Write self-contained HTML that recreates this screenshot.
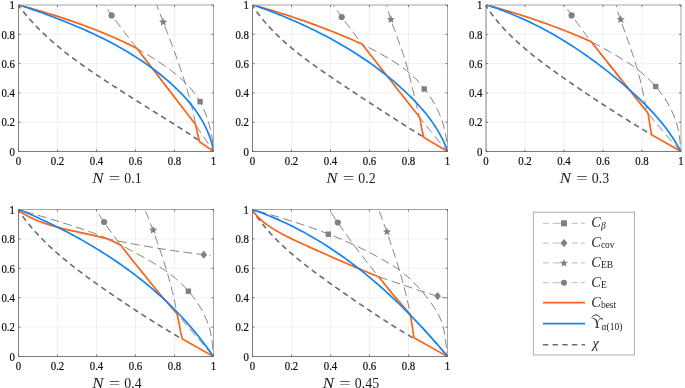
<!DOCTYPE html>
<html><head><meta charset="utf-8"><title>figure</title>
<style>
html,body{margin:0;padding:0;background:#fff;}
svg{display:block;}
.t{font-family:"Liberation Serif",serif;font-size:12.8px;fill:#0a0a0a;stroke:#0a0a0a;stroke-width:0.2px;}
.tt{font-family:"Liberation Serif",serif;font-size:14.3px;fill:#1c1c1c;}
.ti{font-family:"Liberation Serif",serif;font-style:italic;font-size:14.3px;fill:#1c1c1c;}
.ls{font-family:"Liberation Serif",serif;font-size:9.5px;fill:#1c1c1c;}
</style></head><body>
<svg width="685" height="388" viewBox="0 0 685 388">
<rect width="685" height="388" fill="#fff"/>
<rect x="18.5" y="5.0" width="195.0" height="146.5" fill="#fff"/>
<path d="M57.50,5.0 V151.5" stroke="#e9e9e9" stroke-width="0.7"/>
<path d="M18.5,34.30 H213.5" stroke="#e9e9e9" stroke-width="0.7"/>
<path d="M96.50,5.0 V151.5" stroke="#e9e9e9" stroke-width="0.7"/>
<path d="M18.5,63.60 H213.5" stroke="#e9e9e9" stroke-width="0.7"/>
<path d="M135.50,5.0 V151.5" stroke="#e9e9e9" stroke-width="0.7"/>
<path d="M18.5,92.90 H213.5" stroke="#e9e9e9" stroke-width="0.7"/>
<path d="M174.50,5.0 V151.5" stroke="#e9e9e9" stroke-width="0.7"/>
<path d="M18.5,122.20 H213.5" stroke="#e9e9e9" stroke-width="0.7"/>
<clipPath id="c0"><rect x="18.5" y="5.0" width="195.0" height="147.1"/></clipPath>
<g clip-path="url(#c0)">
<path d="M100.45,-0.46 L101.83,1.50 L103.21,3.46 L104.60,5.41 L106.00,7.35 L107.40,9.30 L108.81,11.24 L110.22,13.17 L111.63,15.10 L113.06,17.03 L114.48,18.96 L115.91,20.88 L117.35,22.80 L118.78,24.72 L120.23,26.63 L121.67,28.54 L123.12,30.45 L124.57,32.36 L126.03,34.26 L127.49,36.16 L128.95,38.06 L130.41,39.96 L131.87,41.86 L133.34,43.75 L134.81,45.64 L136.28,47.54 L137.76,49.43 L139.23,51.32 L140.71,53.21 L142.18,55.10 L143.66,56.98 L145.14,58.87 L146.62,60.76 L148.10,62.64 L149.58,64.53 L151.06,66.42 L152.54,68.30 L154.01,70.19 L155.49,72.08 L156.97,73.97 L158.45,75.85 L159.92,77.74 L161.40,79.63 L162.87,81.53 L164.34,83.42 L165.81,85.31 L167.28,87.21 L168.74,89.10 L170.20,91.00 L171.66,92.90 L173.12,94.81 L174.57,96.71 L176.03,98.62 L177.47,100.53 L178.92,102.44 L180.36,104.35 L181.79,106.27 L183.23,108.19 L184.66,110.11 L186.08,112.04 L187.50,113.97 L188.92,115.90 L190.33,117.84 L191.73,119.78 L193.13,121.72 L194.52,123.67 L195.91,125.62 L197.30,127.58 L198.67,129.54 L200.04,131.50 L201.41,133.47 L202.77,135.44 L204.12,137.42 L205.46,139.41 L206.80,141.40 L208.13,143.39 L209.45,145.39 L210.76,147.40 L212.07,149.41 L213.37,151.42" fill="none" stroke="#585858" stroke-width="0.75" stroke-dasharray="8.9,4.4" stroke-dashoffset="1.3"/>
<path d="M18.50,5.00 L21.72,5.82 L24.92,6.65 L28.13,7.51 L31.32,8.39 L34.52,9.28 L37.70,10.19 L40.88,11.12 L44.06,12.07 L47.23,13.03 L50.39,14.01 L53.55,15.01 L56.71,16.03 L59.85,17.06 L63.00,18.11 L66.14,19.17 L69.27,20.25 L72.40,21.34 L75.52,22.45 L78.64,23.57 L81.75,24.71 L84.86,25.86 L87.97,27.03 L91.06,28.20 L94.16,29.40 L97.25,30.60 L100.33,31.82 L103.41,33.05 L106.48,34.30 L109.54,35.58 L112.60,36.87 L115.63,38.19 L118.66,39.54 L121.67,40.92 L124.67,42.32 L127.65,43.77 L130.61,45.25 L133.55,46.77 L136.47,48.33 L139.36,49.94 L142.24,51.58 L145.09,53.27 L147.93,54.98 L150.74,56.72 L153.54,58.49 L156.33,60.28 L159.10,62.10 L161.84,63.94 L164.57,65.82 L167.27,67.74 L169.94,69.70 L172.58,71.70 L175.19,73.76 L177.76,75.88 L180.29,78.05 L182.76,80.28 L185.17,82.58 L187.50,84.95 L189.74,87.38 L191.90,89.90 L193.95,92.48 L195.89,95.15 L197.71,97.90 L199.40,100.73 L200.99,103.64 L202.47,106.60 L203.84,109.62 L205.13,112.68 L206.32,115.78 L207.43,118.91 L208.45,122.07 L209.39,125.26 L210.23,128.47 L210.98,131.70 L211.63,134.95 L212.18,138.22 L212.64,141.50 L212.99,144.79 L213.24,148.09 L213.39,151.39" fill="none" stroke="#585858" stroke-width="0.75" stroke-dasharray="8.9,4.4" stroke-dashoffset="8.0"/>
<path d="M154.46,-0.47 L155.06,1.08 L155.66,2.63 L156.26,4.18 L156.87,5.73 L157.47,7.28 L158.07,8.84 L158.68,10.39 L159.28,11.94 L159.89,13.49 L160.49,15.05 L161.10,16.60 L161.70,18.15 L162.31,19.71 L162.91,21.26 L163.51,22.82 L164.12,24.37 L164.72,25.93 L165.32,27.48 L165.93,29.04 L166.53,30.60 L167.13,32.16 L167.72,33.72 L168.32,35.28 L168.92,36.84 L169.51,38.40 L170.10,39.96 L170.69,41.52 L171.28,43.08 L171.86,44.65 L172.45,46.21 L173.03,47.78 L173.61,49.34 L174.18,50.91 L174.76,52.48 L175.33,54.05 L175.90,55.62 L176.46,57.19 L177.02,58.76 L177.58,60.34 L178.13,61.91 L178.68,63.49 L179.23,65.06 L179.77,66.64 L180.31,68.22 L180.85,69.80 L181.38,71.38 L181.90,72.97 L182.42,74.55 L182.94,76.14 L183.45,77.72 L183.96,79.31 L184.46,80.90 L184.96,82.49 L185.45,84.09 L185.94,85.68 L186.42,87.28 L186.90,88.87 L187.37,90.47 L187.83,92.07 L188.29,93.67 L188.74,95.28 L189.19,96.88 L189.63,98.49 L190.06,100.10 L190.49,101.71 L190.91,103.32 L191.32,104.94 L191.72,106.55 L192.12,108.17 L192.51,109.79 L192.90,111.41 L193.28,113.04 L193.64,114.66 L194.01,116.29 L194.36,117.92 L194.71,119.55 L195.04,121.18 L195.37,122.82 L195.69,124.46" fill="none" stroke="#585858" stroke-width="0.75" stroke-dasharray="8.9,4.4" stroke-dashoffset="11.3"/>
<circle cx="111.60" cy="15.40" r="3.1" fill="#808080"/>
<polygon points="163.20,17.70 164.32,20.56 167.38,20.74 165.01,22.69 165.79,25.66 163.20,24.00 160.61,25.66 161.39,22.69 159.02,20.74 162.08,20.56" fill="#808080"/>
<rect x="197.40" y="99.00" width="5.4" height="5.4" fill="#808080"/>
<path d="M18.24,5.19 L18.74,5.86 L19.24,6.52 L19.74,7.17 L20.24,7.83 L20.75,8.48 L21.25,9.13 L21.76,9.78 L22.28,10.43 L22.79,11.07 L23.31,11.71 L23.83,12.35 L24.35,12.98 L24.87,13.62 L25.40,14.25 L25.93,14.88 L26.46,15.50 L26.99,16.13 L27.52,16.75 L28.06,17.37 L28.60,17.99 L29.14,18.60 L29.68,19.22 L30.23,19.83 L30.78,20.44 L31.33,21.04 L31.88,21.65 L32.43,22.25 L32.99,22.85 L33.55,23.45 L34.11,24.05 L34.67,24.64 L35.23,25.23 L35.80,25.82 L36.36,26.41 L36.93,27.00 L37.50,27.58 L38.08,28.16 L38.65,28.74 L39.23,29.32 L39.81,29.90 L40.39,30.47 L40.97,31.04 L41.56,31.61 L42.14,32.18 L42.73,32.75 L43.32,33.31 L43.91,33.88 L44.50,34.44 L45.10,35.00 L45.69,35.55 L46.29,36.11 L46.89,36.66 L47.49,37.21 L48.10,37.76 L48.70,38.31 L49.31,38.86 L49.92,39.40 L50.52,39.95 L51.14,40.49 L51.75,41.03 L52.36,41.57 L52.98,42.10 L53.59,42.64 L54.21,43.17 L54.83,43.70 L55.45,44.23 L56.08,44.76 L56.70,45.29 L57.33,45.82 L57.95,46.34 L58.58,46.86 L59.21,47.38 L59.84,47.90 L60.48,48.42 L61.11,48.94 L61.75,49.45 L62.38,49.97 L63.02,50.48 L63.66,50.99 L64.30,51.50 L64.94,52.01 L65.58,52.51 L66.23,53.02 L66.87,53.52 L67.52,54.03 L68.16,54.53 L68.81,55.03 L69.46,55.53 L70.11,56.02 L70.77,56.52 L71.42,57.02 L72.07,57.51 L72.73,58.00 L73.38,58.49 L74.04,58.99 L74.70,59.47 L75.36,59.96 L76.02,60.45 L76.68,60.94 L77.34,61.42 L78.00,61.90 L78.67,62.39 L79.33,62.87 L80.00,63.35 L80.66,63.83 L81.33,64.31 L82.00,64.78 L82.67,65.26 L83.34,65.73 L84.01,66.21 L84.68,66.68 L85.35,67.16 L86.02,67.63 L86.70,68.10 L87.37,68.57 L88.04,69.04 L88.72,69.50 L89.40,69.97 L90.07,70.44 L90.75,70.90 L91.43,71.37 L92.11,71.83 L92.79,72.30 L93.47,72.76 L94.15,73.22 L94.83,73.68 L95.51,74.14 L96.19,74.60 L96.87,75.06 L97.56,75.52 L98.24,75.97 L98.92,76.43 L99.61,76.89 L100.29,77.34 L100.98,77.80 L101.66,78.25 L102.35,78.71 L103.04,79.16 L103.72,79.61 L104.41,80.06 L105.10,80.51 L105.79,80.97 L106.47,81.42 L107.16,81.87 L107.85,82.32 L108.54,82.76 L109.23,83.21 L109.92,83.66 L110.61,84.11 L111.30,84.56 L111.99,85.00 L112.68,85.45 L113.37,85.90 L114.06,86.34 L114.75,86.79 L115.44,87.23 L116.13,87.68 L116.82,88.12 L117.51,88.57 L118.20,89.01 L118.89,89.45 L119.58,89.90 L120.27,90.34 L120.96,90.78 L121.65,91.23 L122.35,91.67 L123.04,92.11 L123.73,92.55 L124.42,92.99 L125.11,93.43 L125.80,93.88 L126.49,94.32 L127.19,94.76 L127.88,95.20 L128.57,95.64 L129.26,96.08 L129.95,96.52 L130.65,96.95 L131.34,97.39 L132.03,97.83 L132.72,98.27 L133.42,98.71 L134.11,99.15 L134.80,99.59 L135.49,100.02 L136.19,100.46 L136.88,100.90 L137.57,101.33 L138.27,101.77 L138.96,102.21 L139.65,102.65 L140.35,103.08 L141.04,103.52 L141.73,103.95 L142.43,104.39 L143.12,104.83 L143.81,105.26 L144.51,105.70 L145.20,106.13 L145.89,106.57 L146.59,107.00 L147.28,107.44 L147.97,107.87 L148.67,108.31 L149.36,108.74 L150.06,109.17 L150.75,109.61 L151.44,110.04 L152.14,110.48 L152.83,110.91 L153.53,111.34 L154.22,111.78 L154.92,112.21 L155.61,112.64 L156.30,113.08 L157.00,113.51 L157.69,113.94 L158.39,114.38 L159.08,114.81 L159.78,115.24 L160.47,115.68 L161.17,116.11 L161.86,116.54 L162.56,116.97 L163.25,117.41 L163.94,117.84 L164.64,118.27 L165.33,118.71 L166.03,119.14 L166.72,119.57 L167.41,120.01 L168.11,120.44 L168.80,120.88 L169.50,121.31 L170.19,121.75 L170.88,122.18 L171.57,122.62 L172.27,123.05 L172.96,123.49 L173.65,123.93 L174.34,124.36 L175.03,124.80 L175.73,125.24 L176.42,125.68 L177.11,126.12 L177.80,126.56 L178.49,127.00 L179.18,127.44 L179.87,127.88 L180.56,128.32 L181.24,128.76 L181.93,129.21 L182.62,129.65 L183.31,130.09 L183.99,130.54 L184.68,130.99 L185.37,131.43 L186.05,131.88 L186.74,132.33 L187.42,132.78 L188.10,133.23 L188.79,133.68 L189.47,134.13 L190.15,134.58 L190.84,135.04 L191.52,135.49 L192.20,135.95 L192.88,136.40 L193.56,136.86 L194.24,137.32 L194.91,137.78 L195.59,138.24 L196.27,138.70 L196.94,139.16 L197.62,139.63 L198.29,140.09 L198.97,140.56 L199.64,141.02" fill="none" stroke="#6c6c6c" stroke-width="1.6" stroke-dasharray="5.6,4.07" stroke-dashoffset="1.8"/>
<path d="M18.50,4.99 L20.05,5.40 L21.59,5.81 L23.13,6.23 L24.68,6.64 L26.22,7.07 L27.76,7.49 L29.30,7.92 L30.84,8.35 L32.38,8.78 L33.91,9.21 L35.45,9.65 L36.99,10.09 L38.53,10.54 L40.06,10.99 L41.59,11.44 L43.13,11.89 L44.66,12.35 L46.19,12.81 L47.72,13.27 L49.25,13.74 L50.78,14.21 L52.31,14.69 L53.84,15.16 L55.37,15.65 L56.89,16.13 L58.41,16.62 L59.94,17.11 L61.46,17.61 L62.98,18.10 L64.50,18.61 L66.02,19.11 L67.53,19.62 L69.05,20.14 L70.56,20.65 L72.08,21.17 L73.59,21.70 L75.10,22.23 L76.61,22.76 L78.11,23.30 L79.62,23.84 L81.12,24.38 L82.63,24.93 L84.13,25.49 L85.63,26.04 L87.13,26.60 L88.62,27.17 L90.12,27.74 L91.61,28.31 L93.10,28.89 L94.59,29.47 L96.08,30.06 L97.57,30.65 L99.05,31.24 L100.53,31.84 L102.01,32.45 L103.49,33.06 L104.97,33.67 L106.44,34.29 L107.92,34.91 L109.39,35.54 L110.86,36.17 L112.32,36.80 L113.79,37.44 L115.25,38.09 L116.71,38.74 L118.17,39.39 L119.62,40.05 L121.08,40.72 L122.53,41.39 L123.98,42.06 L125.43,42.74 L126.87,43.43 L128.31,44.12 L129.75,44.81 L131.19,45.51 L132.63,46.22 L134.06,46.93 L135.49,47.64 L136.92,48.36 L195.50,124.50 L196.80,130.00 L197.90,135.00 L199.60,141.80 L213.40,151.40" fill="none" stroke="#fb651c" stroke-width="1.7" stroke-linejoin="round"/>
<path d="M18.79,4.79 L21.75,5.78 L24.71,6.79 L27.68,7.80 L30.66,8.83 L33.64,9.87 L36.63,10.92 L39.62,11.99 L42.61,13.07 L45.61,14.16 L48.61,15.27 L51.62,16.39 L54.62,17.52 L57.62,18.67 L60.63,19.84 L63.63,21.03 L66.63,22.23 L69.62,23.44 L72.61,24.68 L75.60,25.93 L78.59,27.20 L81.56,28.49 L84.54,29.80 L87.50,31.13 L90.46,32.48 L93.40,33.85 L96.34,35.24 L99.27,36.65 L102.19,38.09 L105.09,39.54 L107.99,41.02 L110.87,42.52 L113.74,44.05 L116.59,45.60 L119.43,47.17 L122.25,48.77 L125.06,50.39 L127.85,52.04 L130.62,53.72 L133.37,55.42 L136.10,57.15 L138.81,58.90 L141.51,60.69 L144.18,62.50 L146.82,64.34 L149.45,66.21 L152.05,68.11 L154.63,70.03 L157.18,71.99 L159.70,73.98 L162.20,76.00 L164.68,78.06 L167.12,80.14 L169.53,82.26 L171.92,84.40 L174.28,86.59 L176.60,88.80 L178.89,91.05 L181.14,93.34 L183.35,95.66 L185.52,98.03 L187.64,100.43 L189.71,102.87 L191.72,105.35 L193.68,107.87 L195.57,110.44 L197.40,113.05 L199.16,115.70 L200.85,118.40 L202.46,121.15 L204.00,123.95 L205.45,126.80 L206.82,129.70 L208.10,132.65 L209.28,135.65 L210.37,138.70 L211.36,141.81 L212.25,144.98 L213.03,148.20 L213.70,151.49" fill="none" stroke="#1683ee" stroke-width="1.7"/>
</g>
<path d="M18.5,5.0 H213.5 V151.5" stroke="#a6a6a6" stroke-width="1" fill="none"/>
<path d="M18.5,5.0 V151.5 H213.5" stroke="#7e7e7e" stroke-width="1" fill="none"/>
<path d="M18.50,151.5 v-2.0 M18.5,5.00 h2.0" stroke="#5a5a5a" stroke-width="0.8"/>
<path d="M18.50,5.0 v2.0 M213.5,5.00 h-2.0" stroke="#5a5a5a" stroke-width="0.8"/>
<path d="M57.50,151.5 v-2.0 M18.5,34.30 h2.0" stroke="#5a5a5a" stroke-width="0.8"/>
<path d="M57.50,5.0 v2.0 M213.5,34.30 h-2.0" stroke="#5a5a5a" stroke-width="0.8"/>
<path d="M96.50,151.5 v-2.0 M18.5,63.60 h2.0" stroke="#5a5a5a" stroke-width="0.8"/>
<path d="M96.50,5.0 v2.0 M213.5,63.60 h-2.0" stroke="#5a5a5a" stroke-width="0.8"/>
<path d="M135.50,151.5 v-2.0 M18.5,92.90 h2.0" stroke="#5a5a5a" stroke-width="0.8"/>
<path d="M135.50,5.0 v2.0 M213.5,92.90 h-2.0" stroke="#5a5a5a" stroke-width="0.8"/>
<path d="M174.50,151.5 v-2.0 M18.5,122.20 h2.0" stroke="#5a5a5a" stroke-width="0.8"/>
<path d="M174.50,5.0 v2.0 M213.5,122.20 h-2.0" stroke="#5a5a5a" stroke-width="0.8"/>
<path d="M213.50,151.5 v-2.0 M18.5,151.50 h2.0" stroke="#5a5a5a" stroke-width="0.8"/>
<path d="M213.50,5.0 v2.0 M213.5,151.50 h-2.0" stroke="#5a5a5a" stroke-width="0.8"/>
<text transform="translate(18.50,165.30) scale(0.845,1)" text-anchor="middle" class="t">0</text>
<text transform="translate(14.90,155.70) scale(0.845,1)" text-anchor="end" class="t">0</text>
<text transform="translate(57.50,165.30) scale(0.845,1)" text-anchor="middle" class="t">0.2</text>
<text transform="translate(14.90,126.40) scale(0.845,1)" text-anchor="end" class="t">0.2</text>
<text transform="translate(96.50,165.30) scale(0.845,1)" text-anchor="middle" class="t">0.4</text>
<text transform="translate(14.90,97.10) scale(0.845,1)" text-anchor="end" class="t">0.4</text>
<text transform="translate(135.50,165.30) scale(0.845,1)" text-anchor="middle" class="t">0.6</text>
<text transform="translate(14.90,67.80) scale(0.845,1)" text-anchor="end" class="t">0.6</text>
<text transform="translate(174.50,165.30) scale(0.845,1)" text-anchor="middle" class="t">0.8</text>
<text transform="translate(14.90,38.50) scale(0.845,1)" text-anchor="end" class="t">0.8</text>
<text transform="translate(213.50,165.30) scale(0.845,1)" text-anchor="middle" class="t">1</text>
<text transform="translate(14.90,9.20) scale(0.845,1)" text-anchor="end" class="t">1</text>
<text x="92.30" y="183.40" class="ti" textLength="11.3" lengthAdjust="spacingAndGlyphs">N</text><text x="108.70" y="183.40" class="tt" textLength="11.6" lengthAdjust="spacingAndGlyphs">=</text><text x="124.30" y="183.40" class="tt" textLength="17.3" lengthAdjust="spacingAndGlyphs">0.1</text>
<rect x="252.5" y="5.0" width="195.0" height="146.5" fill="#fff"/>
<path d="M291.50,5.0 V151.5" stroke="#e9e9e9" stroke-width="0.7"/>
<path d="M252.5,34.30 H447.5" stroke="#e9e9e9" stroke-width="0.7"/>
<path d="M330.50,5.0 V151.5" stroke="#e9e9e9" stroke-width="0.7"/>
<path d="M252.5,63.60 H447.5" stroke="#e9e9e9" stroke-width="0.7"/>
<path d="M369.50,5.0 V151.5" stroke="#e9e9e9" stroke-width="0.7"/>
<path d="M252.5,92.90 H447.5" stroke="#e9e9e9" stroke-width="0.7"/>
<path d="M408.50,5.0 V151.5" stroke="#e9e9e9" stroke-width="0.7"/>
<path d="M252.5,122.20 H447.5" stroke="#e9e9e9" stroke-width="0.7"/>
<clipPath id="c1"><rect x="252.5" y="5.0" width="195.0" height="147.1"/></clipPath>
<g clip-path="url(#c1)">
<path d="M329.43,-0.45 L330.82,1.55 L332.21,3.55 L333.61,5.54 L335.01,7.53 L336.42,9.52 L337.84,11.50 L339.25,13.48 L340.68,15.45 L342.11,17.42 L343.54,19.39 L344.98,21.36 L346.42,23.32 L347.87,25.28 L349.32,27.23 L350.78,29.18 L352.23,31.13 L353.70,33.08 L355.16,35.02 L356.63,36.96 L358.10,38.90 L359.58,40.84 L361.06,42.77 L362.54,44.71 L364.02,46.64 L365.51,48.56 L366.99,50.49 L368.48,52.42 L369.97,54.34 L371.47,56.26 L372.96,58.19 L374.46,60.11 L375.96,62.03 L377.46,63.95 L378.96,65.86 L380.46,67.78 L381.96,69.70 L383.46,71.61 L384.96,73.53 L386.46,75.45 L387.97,77.36 L389.47,79.28 L390.97,81.19 L392.47,83.11 L393.98,85.02 L395.48,86.94 L396.98,88.85 L398.49,90.77 L399.99,92.68 L401.50,94.59 L403.00,96.51 L404.51,98.42 L406.02,100.33 L407.53,102.24 L409.04,104.15 L410.55,106.06 L412.06,107.96 L413.57,109.87 L415.09,111.78 L416.61,113.68 L418.12,115.58 L419.64,117.49 L421.17,119.39 L422.69,121.28 L424.21,123.18 L425.74,125.08 L427.27,126.97 L428.80,128.86 L430.33,130.76 L431.87,132.64 L433.41,134.53 L434.95,136.42 L436.49,138.30 L438.04,140.18 L439.58,142.06 L441.14,143.94 L442.69,145.81 L444.25,147.69 L445.81,149.56 L447.37,151.42" fill="none" stroke="#585858" stroke-width="0.75" stroke-dasharray="8.9,4.4" stroke-dashoffset="0.2"/>
<path d="M252.50,5.00 L255.73,5.79 L258.94,6.61 L262.15,7.47 L265.34,8.35 L268.53,9.26 L271.71,10.20 L274.88,11.16 L278.04,12.15 L281.19,13.15 L284.34,14.18 L287.49,15.23 L290.62,16.29 L293.75,17.38 L296.88,18.47 L300.00,19.58 L303.12,20.71 L306.23,21.84 L309.34,22.99 L312.45,24.14 L315.55,25.30 L318.66,26.47 L321.76,27.64 L324.86,28.81 L327.96,29.99 L331.06,31.17 L334.16,32.34 L337.25,33.53 L340.34,34.73 L343.42,35.95 L346.49,37.19 L349.54,38.47 L352.57,39.79 L355.59,41.15 L358.59,42.54 L361.57,43.97 L364.54,45.43 L367.49,46.93 L370.43,48.45 L373.37,49.99 L376.29,51.56 L379.21,53.15 L382.13,54.76 L385.03,56.39 L387.91,58.05 L390.77,59.75 L393.60,61.49 L396.40,63.28 L399.15,65.13 L401.86,67.03 L404.51,69.00 L407.11,71.04 L409.64,73.15 L412.11,75.34 L414.50,77.61 L416.83,79.95 L419.08,82.37 L421.27,84.86 L423.38,87.41 L425.42,90.02 L427.39,92.70 L429.28,95.43 L431.10,98.21 L432.84,101.04 L434.49,103.92 L436.06,106.84 L437.54,109.81 L438.92,112.81 L440.21,115.86 L441.39,118.95 L442.47,122.07 L443.44,125.23 L444.30,128.42 L445.04,131.64 L445.67,134.89 L446.19,138.16 L446.61,141.46 L446.94,144.77 L447.17,148.09 L447.31,151.42" fill="none" stroke="#585858" stroke-width="0.75" stroke-dasharray="8.9,4.4" stroke-dashoffset="9.2"/>
<path d="M385.22,-0.41 L385.56,1.11 L385.92,2.61 L386.29,4.12 L386.68,5.62 L387.08,7.12 L387.49,8.62 L387.92,10.11 L388.36,11.60 L388.80,13.08 L389.26,14.57 L389.73,16.05 L390.21,17.53 L390.69,19.00 L391.19,20.48 L391.69,21.95 L392.20,23.42 L392.71,24.89 L393.23,26.36 L393.75,27.83 L394.27,29.30 L394.80,30.76 L395.33,32.23 L395.87,33.70 L396.40,35.16 L396.94,36.63 L397.47,38.09 L398.01,39.56 L398.54,41.02 L399.07,42.49 L399.60,43.96 L400.13,45.43 L400.65,46.90 L401.16,48.37 L401.67,49.84 L402.18,51.32 L402.68,52.79 L403.17,54.27 L403.65,55.75 L404.13,57.24 L404.59,58.72 L405.05,60.21 L405.50,61.70 L405.95,63.19 L406.38,64.69 L406.81,66.18 L407.24,67.68 L407.65,69.18 L408.06,70.68 L408.47,72.19 L408.87,73.69 L409.26,75.20 L409.65,76.70 L410.04,78.21 L410.42,79.72 L410.80,81.23 L411.17,82.75 L411.54,84.26 L411.91,85.77 L412.28,87.29 L412.64,88.80 L413.00,90.31 L413.36,91.83 L413.72,93.35 L414.08,94.86 L414.44,96.38 L414.79,97.89 L415.15,99.41 L415.51,100.93 L415.87,102.44 L416.22,103.96 L416.58,105.47 L416.94,106.99 L417.31,108.50 L417.67,110.02 L418.04,111.53 L418.41,113.04 L418.78,114.55 L419.16,116.06 L419.54,117.57" fill="none" stroke="#585858" stroke-width="0.75" stroke-dasharray="8.9,4.4" stroke-dashoffset="1.4"/>
<circle cx="341.70" cy="17.00" r="3.1" fill="#808080"/>
<polygon points="390.90,15.10 392.02,17.96 395.08,18.14 392.71,20.09 393.49,23.06 390.90,21.40 388.31,23.06 389.09,20.09 386.72,18.14 389.78,17.96" fill="#808080"/>
<rect x="421.50" y="86.30" width="5.4" height="5.4" fill="#808080"/>
<path d="M252.11,5.19 L252.58,5.88 L253.04,6.58 L253.51,7.26 L253.98,7.95 L254.46,8.63 L254.93,9.31 L255.41,9.99 L255.90,10.66 L256.39,11.33 L256.87,12.00 L257.37,12.67 L257.86,13.33 L258.36,13.99 L258.86,14.64 L259.37,15.30 L259.87,15.95 L260.38,16.59 L260.90,17.24 L261.41,17.88 L261.93,18.52 L262.45,19.16 L262.97,19.79 L263.50,20.42 L264.03,21.05 L264.56,21.67 L265.09,22.30 L265.63,22.92 L266.17,23.53 L266.71,24.15 L267.25,24.76 L267.80,25.37 L268.35,25.98 L268.90,26.58 L269.46,27.18 L270.01,27.78 L270.57,28.38 L271.13,28.98 L271.69,29.57 L272.26,30.16 L272.83,30.75 L273.40,31.33 L273.97,31.91 L274.54,32.50 L275.12,33.07 L275.70,33.65 L276.28,34.22 L276.86,34.80 L277.45,35.37 L278.04,35.93 L278.63,36.50 L279.22,37.06 L279.81,37.62 L280.41,38.18 L281.00,38.74 L281.60,39.29 L282.21,39.85 L282.81,40.40 L283.41,40.95 L284.02,41.49 L284.63,42.04 L285.24,42.58 L285.85,43.12 L286.47,43.66 L287.08,44.20 L287.70,44.74 L288.32,45.27 L288.94,45.80 L289.56,46.33 L290.19,46.86 L290.81,47.39 L291.44,47.91 L292.07,48.44 L292.70,48.96 L293.33,49.48 L293.97,50.00 L294.60,50.51 L295.24,51.03 L295.88,51.54 L296.51,52.06 L297.16,52.57 L297.80,53.08 L298.44,53.58 L299.09,54.09 L299.73,54.60 L300.38,55.10 L301.03,55.60 L301.68,56.10 L302.33,56.60 L302.98,57.10 L303.63,57.60 L304.29,58.09 L304.95,58.59 L305.60,59.08 L306.26,59.57 L306.92,60.06 L307.58,60.55 L308.24,61.04 L308.90,61.53 L309.56,62.02 L310.23,62.50 L310.89,62.99 L311.56,63.47 L312.23,63.95 L312.89,64.43 L313.56,64.91 L314.23,65.39 L314.90,65.87 L315.57,66.35 L316.24,66.82 L316.91,67.30 L317.59,67.77 L318.26,68.25 L318.93,68.72 L319.61,69.19 L320.29,69.67 L320.96,70.14 L321.64,70.61 L322.31,71.08 L322.99,71.54 L323.67,72.01 L324.35,72.48 L325.03,72.95 L325.71,73.41 L326.39,73.88 L327.07,74.34 L327.75,74.81 L328.43,75.27 L329.11,75.74 L329.79,76.20 L330.47,76.66 L331.16,77.12 L331.84,77.59 L332.52,78.05 L333.20,78.51 L333.89,78.97 L334.57,79.43 L335.25,79.89 L335.94,80.35 L336.62,80.81 L337.30,81.27 L337.99,81.73 L338.67,82.19 L339.35,82.65 L340.04,83.10 L340.72,83.56 L341.40,84.02 L342.09,84.48 L342.77,84.94 L343.45,85.39 L344.14,85.85 L344.82,86.31 L345.51,86.76 L346.19,87.22 L346.87,87.68 L347.56,88.13 L348.24,88.59 L348.93,89.04 L349.61,89.50 L350.30,89.95 L350.98,90.41 L351.67,90.86 L352.35,91.32 L353.03,91.77 L353.72,92.23 L354.40,92.68 L355.09,93.13 L355.77,93.59 L356.46,94.04 L357.14,94.49 L357.83,94.95 L358.51,95.40 L359.20,95.85 L359.89,96.30 L360.57,96.76 L361.26,97.21 L361.94,97.66 L362.63,98.11 L363.31,98.56 L364.00,99.01 L364.69,99.46 L365.37,99.91 L366.06,100.36 L366.74,100.81 L367.43,101.26 L368.12,101.71 L368.80,102.16 L369.49,102.61 L370.18,103.06 L370.86,103.51 L371.55,103.96 L372.24,104.40 L372.93,104.85 L373.61,105.30 L374.30,105.75 L374.99,106.19 L375.68,106.64 L376.36,107.09 L377.05,107.53 L377.74,107.98 L378.43,108.43 L379.12,108.87 L379.80,109.32 L380.49,109.76 L381.18,110.21 L381.87,110.66 L382.56,111.10 L383.25,111.55 L383.94,111.99 L384.63,112.43 L385.32,112.88 L386.00,113.32 L386.69,113.77 L387.38,114.21 L388.07,114.65 L388.76,115.10 L389.45,115.54 L390.14,115.98 L390.83,116.42 L391.52,116.87 L392.22,117.31 L392.91,117.75 L393.60,118.19 L394.29,118.63 L394.98,119.07 L395.67,119.51 L396.36,119.95 L397.05,120.39 L397.75,120.84 L398.44,121.28 L399.13,121.71 L399.82,122.15 L400.51,122.59 L401.21,123.03 L401.90,123.47 L402.59,123.91 L403.28,124.35 L403.98,124.79 L404.67,125.23 L405.36,125.66 L406.06,126.10 L406.75,126.54 L407.45,126.98 L408.14,127.41 L408.83,127.85 L409.53,128.29 L410.22,128.72 L410.92,129.16 L411.61,129.60 L412.31,130.03 L413.00,130.47 L413.70,130.90 L414.39,131.34 L415.09,131.77 L415.79,132.21 L416.48,132.64 L417.18,133.08 L417.87,133.51 L418.57,133.95 L419.27,134.38 L419.96,134.81 L420.66,135.25 L421.36,135.68 L422.06,136.11 L422.75,136.55 L423.45,136.98" fill="none" stroke="#6c6c6c" stroke-width="1.6" stroke-dasharray="5.6,4.07" stroke-dashoffset="1.8"/>
<path d="M252.51,4.99 L253.93,5.37 L255.35,5.75 L256.77,6.14 L258.20,6.54 L259.62,6.93 L261.04,7.33 L262.46,7.73 L263.88,8.14 L265.29,8.54 L266.71,8.95 L268.13,9.37 L269.54,9.78 L270.96,10.20 L272.37,10.62 L273.78,11.05 L275.20,11.48 L276.61,11.91 L278.02,12.34 L279.43,12.78 L280.84,13.22 L282.25,13.66 L283.65,14.11 L285.06,14.56 L286.46,15.01 L287.87,15.46 L289.27,15.92 L290.68,16.38 L292.08,16.84 L293.48,17.31 L294.88,17.78 L296.28,18.25 L297.68,18.73 L299.07,19.20 L300.47,19.68 L301.86,20.17 L303.26,20.65 L304.65,21.14 L306.04,21.63 L307.44,22.13 L308.83,22.63 L310.21,23.13 L311.60,23.63 L312.99,24.14 L314.38,24.64 L315.76,25.16 L317.14,25.67 L318.53,26.19 L319.91,26.71 L321.29,27.23 L322.67,27.75 L324.05,28.28 L325.43,28.81 L326.80,29.35 L328.18,29.88 L329.55,30.42 L330.92,30.96 L332.29,31.51 L333.66,32.06 L335.03,32.61 L336.40,33.16 L337.77,33.71 L339.13,34.27 L340.50,34.83 L341.86,35.40 L343.22,35.96 L344.58,36.53 L345.94,37.10 L347.30,37.68 L348.66,38.25 L350.01,38.83 L351.37,39.41 L352.72,40.00 L354.07,40.58 L355.42,41.17 L356.77,41.77 L358.12,42.36 L359.47,42.96 L360.81,43.56 L362.16,44.16 L419.80,117.50 L421.60,127.70 L423.70,137.20 L447.40,151.40" fill="none" stroke="#fb651c" stroke-width="1.7" stroke-linejoin="round"/>
<path d="M252.73,4.74 L255.67,5.76 L258.61,6.81 L261.55,7.87 L264.49,8.95 L267.43,10.05 L270.37,11.16 L273.31,12.30 L276.24,13.45 L279.18,14.61 L282.10,15.80 L285.03,17.00 L287.95,18.23 L290.87,19.47 L293.78,20.73 L296.69,22.01 L299.60,23.31 L302.49,24.62 L305.38,25.96 L308.27,27.31 L311.14,28.69 L314.01,30.08 L316.87,31.50 L319.72,32.93 L322.56,34.39 L325.39,35.86 L328.22,37.36 L331.03,38.87 L333.83,40.41 L336.62,41.96 L339.39,43.54 L342.16,45.14 L344.91,46.76 L347.65,48.40 L350.38,50.06 L353.09,51.74 L355.78,53.45 L358.46,55.18 L361.13,56.93 L363.78,58.70 L366.41,60.49 L369.03,62.31 L371.63,64.14 L374.21,66.01 L376.77,67.89 L379.32,69.80 L381.84,71.73 L384.35,73.68 L386.84,75.65 L389.30,77.65 L391.75,79.68 L394.17,81.72 L396.57,83.79 L398.95,85.89 L401.31,88.01 L403.64,90.15 L405.95,92.32 L408.24,94.51 L410.50,96.73 L412.73,98.97 L414.93,101.24 L417.11,103.54 L419.24,105.87 L421.34,108.23 L423.40,110.62 L425.42,113.05 L427.39,115.51 L429.31,118.01 L431.18,120.55 L433.00,123.12 L434.76,125.74 L436.46,128.40 L438.10,131.10 L439.68,133.85 L441.19,136.64 L442.63,139.48 L443.99,142.37 L445.29,145.31 L446.50,148.31 L447.64,151.35" fill="none" stroke="#1683ee" stroke-width="1.7"/>
</g>
<path d="M252.5,5.0 H447.5 V151.5" stroke="#a6a6a6" stroke-width="1" fill="none"/>
<path d="M252.5,5.0 V151.5 H447.5" stroke="#7e7e7e" stroke-width="1" fill="none"/>
<path d="M252.50,151.5 v-2.0 M252.5,5.00 h2.0" stroke="#5a5a5a" stroke-width="0.8"/>
<path d="M252.50,5.0 v2.0 M447.5,5.00 h-2.0" stroke="#5a5a5a" stroke-width="0.8"/>
<path d="M291.50,151.5 v-2.0 M252.5,34.30 h2.0" stroke="#5a5a5a" stroke-width="0.8"/>
<path d="M291.50,5.0 v2.0 M447.5,34.30 h-2.0" stroke="#5a5a5a" stroke-width="0.8"/>
<path d="M330.50,151.5 v-2.0 M252.5,63.60 h2.0" stroke="#5a5a5a" stroke-width="0.8"/>
<path d="M330.50,5.0 v2.0 M447.5,63.60 h-2.0" stroke="#5a5a5a" stroke-width="0.8"/>
<path d="M369.50,151.5 v-2.0 M252.5,92.90 h2.0" stroke="#5a5a5a" stroke-width="0.8"/>
<path d="M369.50,5.0 v2.0 M447.5,92.90 h-2.0" stroke="#5a5a5a" stroke-width="0.8"/>
<path d="M408.50,151.5 v-2.0 M252.5,122.20 h2.0" stroke="#5a5a5a" stroke-width="0.8"/>
<path d="M408.50,5.0 v2.0 M447.5,122.20 h-2.0" stroke="#5a5a5a" stroke-width="0.8"/>
<path d="M447.50,151.5 v-2.0 M252.5,151.50 h2.0" stroke="#5a5a5a" stroke-width="0.8"/>
<path d="M447.50,5.0 v2.0 M447.5,151.50 h-2.0" stroke="#5a5a5a" stroke-width="0.8"/>
<text transform="translate(252.50,165.30) scale(0.845,1)" text-anchor="middle" class="t">0</text>
<text transform="translate(248.90,155.70) scale(0.845,1)" text-anchor="end" class="t">0</text>
<text transform="translate(291.50,165.30) scale(0.845,1)" text-anchor="middle" class="t">0.2</text>
<text transform="translate(248.90,126.40) scale(0.845,1)" text-anchor="end" class="t">0.2</text>
<text transform="translate(330.50,165.30) scale(0.845,1)" text-anchor="middle" class="t">0.4</text>
<text transform="translate(248.90,97.10) scale(0.845,1)" text-anchor="end" class="t">0.4</text>
<text transform="translate(369.50,165.30) scale(0.845,1)" text-anchor="middle" class="t">0.6</text>
<text transform="translate(248.90,67.80) scale(0.845,1)" text-anchor="end" class="t">0.6</text>
<text transform="translate(408.50,165.30) scale(0.845,1)" text-anchor="middle" class="t">0.8</text>
<text transform="translate(248.90,38.50) scale(0.845,1)" text-anchor="end" class="t">0.8</text>
<text transform="translate(447.50,165.30) scale(0.845,1)" text-anchor="middle" class="t">1</text>
<text transform="translate(248.90,9.20) scale(0.845,1)" text-anchor="end" class="t">1</text>
<text x="326.30" y="183.40" class="ti" textLength="11.3" lengthAdjust="spacingAndGlyphs">N</text><text x="342.70" y="183.40" class="tt" textLength="11.6" lengthAdjust="spacingAndGlyphs">=</text><text x="358.30" y="183.40" class="tt" textLength="17.3" lengthAdjust="spacingAndGlyphs">0.2</text>
<rect x="486.0" y="5.0" width="195.0" height="146.5" fill="#fff"/>
<path d="M525.00,5.0 V151.5" stroke="#e9e9e9" stroke-width="0.7"/>
<path d="M486.0,34.30 H681.0" stroke="#e9e9e9" stroke-width="0.7"/>
<path d="M564.00,5.0 V151.5" stroke="#e9e9e9" stroke-width="0.7"/>
<path d="M486.0,63.60 H681.0" stroke="#e9e9e9" stroke-width="0.7"/>
<path d="M603.00,5.0 V151.5" stroke="#e9e9e9" stroke-width="0.7"/>
<path d="M486.0,92.90 H681.0" stroke="#e9e9e9" stroke-width="0.7"/>
<path d="M642.00,5.0 V151.5" stroke="#e9e9e9" stroke-width="0.7"/>
<path d="M486.0,122.20 H681.0" stroke="#e9e9e9" stroke-width="0.7"/>
<clipPath id="c2"><rect x="486.0" y="5.0" width="195.0" height="147.1"/></clipPath>
<g clip-path="url(#c2)">
<path d="M560.68,-0.41 L562.07,1.61 L563.47,3.62 L564.87,5.63 L566.27,7.64 L567.68,9.65 L569.10,11.65 L570.52,13.65 L571.94,15.65 L573.37,17.64 L574.80,19.63 L576.24,21.62 L577.68,23.61 L579.12,25.59 L580.57,27.57 L582.02,29.54 L583.48,31.52 L584.94,33.49 L586.40,35.46 L587.87,37.42 L589.34,39.39 L590.82,41.35 L592.29,43.30 L593.77,45.26 L595.26,47.21 L596.75,49.16 L598.24,51.11 L599.73,53.06 L601.23,55.00 L602.73,56.94 L604.23,58.88 L605.74,60.82 L607.25,62.76 L608.76,64.69 L610.27,66.62 L611.79,68.55 L613.31,70.48 L614.83,72.40 L616.35,74.32 L617.88,76.25 L619.41,78.17 L620.94,80.08 L622.47,82.00 L624.01,83.92 L625.55,85.83 L627.08,87.74 L628.63,89.65 L630.17,91.56 L631.71,93.47 L633.26,95.37 L634.81,97.27 L636.36,99.18 L637.91,101.08 L639.47,102.97 L641.02,104.87 L642.58,106.77 L644.14,108.66 L645.71,110.55 L647.27,112.44 L648.84,114.33 L650.41,116.21 L651.98,118.09 L653.55,119.98 L655.13,121.86 L656.70,123.73 L658.28,125.61 L659.87,127.48 L661.45,129.35 L663.04,131.22 L664.63,133.09 L666.22,134.95 L667.81,136.81 L669.41,138.67 L671.00,140.53 L672.60,142.39 L674.21,144.24 L675.81,146.09 L677.42,147.94 L679.03,149.78 L680.64,151.62" fill="none" stroke="#585858" stroke-width="0.75" stroke-dasharray="8.9,4.4" stroke-dashoffset="1.5"/>
<path d="M486.00,5.00 L489.21,5.81 L492.41,6.65 L495.61,7.50 L498.81,8.38 L501.99,9.28 L505.18,10.20 L508.35,11.13 L511.53,12.09 L514.69,13.06 L517.85,14.05 L521.01,15.06 L524.16,16.08 L527.31,17.12 L530.45,18.18 L533.59,19.24 L536.72,20.33 L539.85,21.42 L542.97,22.53 L546.09,23.66 L549.20,24.79 L552.31,25.94 L555.42,27.09 L558.52,28.26 L561.61,29.44 L564.70,30.62 L567.79,31.82 L570.87,33.03 L573.94,34.26 L577.00,35.51 L580.05,36.79 L583.08,38.11 L586.10,39.46 L589.10,40.85 L592.08,42.29 L595.04,43.78 L597.99,45.30 L600.91,46.86 L603.82,48.46 L606.72,50.07 L609.60,51.71 L612.48,53.35 L615.35,55.01 L618.20,56.68 L621.04,58.38 L623.86,60.10 L626.65,61.86 L629.41,63.67 L632.14,65.52 L634.83,67.44 L637.48,69.42 L640.08,71.47 L642.64,73.59 L645.14,75.78 L647.58,78.03 L649.97,80.35 L652.29,82.74 L654.54,85.18 L656.73,87.69 L658.84,90.26 L660.87,92.88 L662.82,95.56 L664.69,98.30 L666.46,101.09 L668.15,103.94 L669.74,106.83 L671.23,109.78 L672.63,112.77 L673.91,115.81 L675.09,118.89 L676.15,122.01 L677.09,125.17 L677.92,128.37 L678.62,131.60 L679.20,134.87 L679.67,138.16 L680.05,141.48 L680.34,144.80 L680.58,148.12 L680.79,151.43" fill="none" stroke="#585858" stroke-width="0.75" stroke-dasharray="8.9,4.4" stroke-dashoffset="7.2"/>
<path d="M615.88,-0.47 L615.89,1.05 L615.98,2.54 L616.12,4.03 L616.33,5.50 L616.59,6.96 L616.89,8.41 L617.24,9.84 L617.63,11.27 L618.05,12.70 L618.49,14.11 L618.96,15.53 L619.45,16.93 L619.94,18.34 L620.45,19.75 L620.95,21.15 L621.46,22.56 L621.97,23.97 L622.47,25.38 L622.98,26.78 L623.49,28.19 L624.00,29.60 L624.51,31.01 L625.02,32.42 L625.53,33.84 L626.04,35.25 L626.54,36.66 L627.05,38.08 L627.55,39.49 L628.06,40.91 L628.55,42.32 L629.05,43.74 L629.55,45.16 L630.04,46.58 L630.53,48.00 L631.01,49.42 L631.50,50.84 L631.98,52.27 L632.45,53.69 L632.92,55.12 L633.39,56.55 L633.85,57.97 L634.30,59.40 L634.75,60.84 L635.20,62.27 L635.64,63.70 L636.07,65.14 L636.50,66.57 L636.93,68.01 L637.34,69.45 L637.75,70.89 L638.16,72.34 L638.55,73.78 L638.95,75.23 L639.33,76.68 L639.71,78.13 L640.07,79.58 L640.44,81.03 L640.79,82.49 L641.14,83.94 L641.47,85.40 L641.80,86.87 L642.13,88.33 L642.44,89.80 L642.75,91.26 L643.06,92.73 L643.36,94.20 L643.66,95.67 L643.97,97.14 L644.28,98.60 L644.59,100.07 L644.91,101.53 L645.24,102.99 L645.57,104.45 L645.92,105.91 L646.29,107.36 L646.67,108.81 L647.06,110.25 L647.47,111.69 L647.91,113.12" fill="none" stroke="#585858" stroke-width="0.75" stroke-dasharray="8.9,4.4" stroke-dashoffset="1.2"/>
<circle cx="571.60" cy="15.40" r="3.1" fill="#808080"/>
<polygon points="620.70,15.10 621.82,17.96 624.88,18.14 622.51,20.09 623.29,23.06 620.70,21.40 618.11,23.06 618.89,20.09 616.52,18.14 619.58,17.96" fill="#808080"/>
<rect x="653.00" y="83.80" width="5.4" height="5.4" fill="#808080"/>
<path d="M485.60,5.26 L486.05,5.96 L486.50,6.66 L486.96,7.35 L487.42,8.04 L487.88,8.73 L488.35,9.41 L488.82,10.10 L489.29,10.77 L489.77,11.45 L490.25,12.12 L490.73,12.79 L491.22,13.46 L491.71,14.12 L492.20,14.78 L492.70,15.43 L493.20,16.09 L493.70,16.74 L494.21,17.39 L494.71,18.03 L495.22,18.68 L495.74,19.32 L496.26,19.95 L496.78,20.59 L497.30,21.22 L497.82,21.85 L498.35,22.47 L498.88,23.10 L499.42,23.72 L499.96,24.34 L500.49,24.95 L501.04,25.56 L501.58,26.18 L502.13,26.78 L502.68,27.39 L503.23,27.99 L503.79,28.59 L504.34,29.19 L504.90,29.79 L505.46,30.38 L506.03,30.97 L506.60,31.56 L507.17,32.15 L507.74,32.73 L508.31,33.32 L508.89,33.90 L509.46,34.47 L510.05,35.05 L510.63,35.62 L511.21,36.20 L511.80,36.77 L512.39,37.33 L512.98,37.90 L513.57,38.46 L514.17,39.02 L514.76,39.58 L515.36,40.14 L515.96,40.70 L516.56,41.25 L517.17,41.80 L517.77,42.36 L518.38,42.90 L518.99,43.45 L519.60,44.00 L520.21,44.54 L520.83,45.08 L521.44,45.62 L522.06,46.16 L522.68,46.70 L523.30,47.23 L523.92,47.77 L524.54,48.30 L525.17,48.83 L525.79,49.36 L526.42,49.89 L527.05,50.42 L527.68,50.94 L528.31,51.47 L528.94,51.99 L529.58,52.51 L530.21,53.03 L530.85,53.55 L531.49,54.07 L532.12,54.58 L532.76,55.10 L533.40,55.61 L534.05,56.12 L534.69,56.63 L535.33,57.14 L535.98,57.65 L536.63,58.16 L537.27,58.66 L537.92,59.17 L538.57,59.67 L539.22,60.18 L539.88,60.68 L540.53,61.18 L541.18,61.68 L541.84,62.18 L542.49,62.67 L543.15,63.17 L543.81,63.66 L544.46,64.16 L545.12,64.65 L545.78,65.14 L546.44,65.64 L547.11,66.13 L547.77,66.61 L548.43,67.10 L549.10,67.59 L549.76,68.08 L550.43,68.56 L551.09,69.05 L551.76,69.53 L552.43,70.02 L553.09,70.50 L553.76,70.98 L554.43,71.46 L555.10,71.94 L555.77,72.42 L556.44,72.90 L557.12,73.38 L557.79,73.86 L558.46,74.33 L559.13,74.81 L559.81,75.28 L560.48,75.76 L561.16,76.23 L561.83,76.71 L562.51,77.18 L563.18,77.65 L563.86,78.12 L564.53,78.60 L565.21,79.07 L565.89,79.54 L566.57,80.01 L567.24,80.48 L567.92,80.94 L568.60,81.41 L569.28,81.88 L569.96,82.35 L570.64,82.82 L571.31,83.28 L571.99,83.75 L572.67,84.22 L573.35,84.68 L574.03,85.15 L574.71,85.61 L575.39,86.08 L576.07,86.54 L576.75,87.00 L577.44,87.47 L578.12,87.93 L578.80,88.39 L579.48,88.86 L580.16,89.32 L580.84,89.78 L581.52,90.24 L582.21,90.70 L582.89,91.16 L583.57,91.62 L584.25,92.08 L584.94,92.54 L585.62,93.00 L586.30,93.46 L586.99,93.92 L587.67,94.37 L588.35,94.83 L589.04,95.29 L589.72,95.75 L590.41,96.20 L591.09,96.66 L591.78,97.11 L592.46,97.57 L593.15,98.02 L593.83,98.48 L594.52,98.93 L595.20,99.38 L595.89,99.84 L596.58,100.29 L597.26,100.74 L597.95,101.19 L598.64,101.64 L599.32,102.10 L600.01,102.55 L600.70,103.00 L601.39,103.45 L602.08,103.90 L602.76,104.34 L603.45,104.79 L604.14,105.24 L604.83,105.69 L605.52,106.14 L606.21,106.58 L606.90,107.03 L607.59,107.48 L608.28,107.92 L608.97,108.37 L609.66,108.81 L610.35,109.26 L611.04,109.70 L611.73,110.14 L612.43,110.59 L613.12,111.03 L613.81,111.47 L614.50,111.91 L615.20,112.36 L615.89,112.80 L616.58,113.24 L617.27,113.68 L617.97,114.12 L618.66,114.56 L619.36,115.00 L620.05,115.43 L620.75,115.87 L621.44,116.31 L622.14,116.75 L622.83,117.18 L623.53,117.62 L624.22,118.06 L624.92,118.49 L625.62,118.93 L626.31,119.36 L627.01,119.80 L627.71,120.23 L628.40,120.66 L629.10,121.10 L629.80,121.53 L630.50,121.96 L631.20,122.39 L631.90,122.83 L632.60,123.26 L633.29,123.69 L633.99,124.12 L634.69,124.55 L635.39,124.97 L636.09,125.40 L636.80,125.83 L637.50,126.26 L638.20,126.69 L638.90,127.11 L639.60,127.54 L640.30,127.97 L641.01,128.39 L641.71,128.82 L642.41,129.24 L643.12,129.67 L643.82,130.09 L644.52,130.51 L645.23,130.93 L645.93,131.36 L646.64,131.78 L647.34,132.20 L648.05,132.62 L648.75,133.04 L649.46,133.46 L650.17,133.88 L650.87,134.30 L651.58,134.72" fill="none" stroke="#6c6c6c" stroke-width="1.6" stroke-dasharray="5.6,4.07" stroke-dashoffset="1.8"/>
<path d="M486.00,4.99 L487.37,5.35 L488.73,5.70 L490.09,6.07 L491.45,6.43 L492.81,6.79 L494.17,7.16 L495.53,7.54 L496.89,7.91 L498.25,8.29 L499.61,8.67 L500.96,9.05 L502.32,9.44 L503.67,9.83 L505.03,10.22 L506.38,10.62 L507.73,11.02 L509.08,11.42 L510.43,11.82 L511.78,12.23 L513.13,12.64 L514.48,13.05 L515.83,13.47 L517.17,13.89 L518.52,14.31 L519.87,14.73 L521.21,15.16 L522.55,15.59 L523.90,16.02 L525.24,16.45 L526.58,16.89 L527.92,17.33 L529.26,17.77 L530.59,18.22 L531.93,18.67 L533.27,19.12 L534.60,19.57 L535.94,20.03 L537.27,20.49 L538.60,20.95 L539.94,21.42 L541.27,21.88 L542.60,22.35 L543.92,22.83 L545.25,23.30 L546.58,23.78 L547.90,24.26 L549.23,24.75 L550.55,25.23 L551.88,25.72 L553.20,26.21 L554.52,26.71 L555.84,27.20 L557.16,27.70 L558.47,28.20 L559.79,28.71 L561.11,29.21 L562.42,29.72 L563.73,30.24 L565.05,30.75 L566.36,31.27 L567.67,31.79 L568.98,32.31 L570.29,32.83 L571.59,33.36 L572.90,33.89 L574.20,34.42 L575.51,34.96 L576.81,35.49 L578.11,36.03 L579.41,36.58 L580.71,37.12 L582.01,37.67 L583.30,38.22 L584.60,38.77 L585.89,39.32 L587.19,39.88 L588.48,40.44 L589.77,41.00 L591.06,41.56 L648.00,113.10 L649.90,124.80 L651.60,134.70 L680.90,151.40" fill="none" stroke="#fb651c" stroke-width="1.7" stroke-linejoin="round"/>
<path d="M486.13,4.80 L489.13,5.75 L492.11,6.74 L495.08,7.75 L498.03,8.80 L500.98,9.87 L503.92,10.98 L506.85,12.11 L509.76,13.27 L512.67,14.45 L515.56,15.67 L518.44,16.91 L521.32,18.18 L524.18,19.47 L527.03,20.79 L529.86,22.14 L532.69,23.51 L535.50,24.90 L538.31,26.33 L541.10,27.77 L543.88,29.24 L546.65,30.74 L549.41,32.25 L552.15,33.79 L554.88,35.36 L557.61,36.94 L560.32,38.55 L563.01,40.18 L565.70,41.83 L568.37,43.50 L571.03,45.19 L573.68,46.91 L576.32,48.64 L578.94,50.39 L581.55,52.16 L584.15,53.96 L586.74,55.77 L589.31,57.59 L591.87,59.44 L594.42,61.31 L596.95,63.19 L599.48,65.09 L601.98,67.00 L604.48,68.94 L606.96,70.88 L609.43,72.85 L611.89,74.83 L614.33,76.82 L616.76,78.83 L619.18,80.86 L621.58,82.90 L623.97,84.95 L626.35,87.01 L628.71,89.09 L631.06,91.19 L633.39,93.30 L635.71,95.42 L638.00,97.56 L640.28,99.72 L642.53,101.90 L644.76,104.11 L646.96,106.33 L649.14,108.58 L651.30,110.85 L653.42,113.15 L655.51,115.47 L657.58,117.82 L659.61,120.20 L661.60,122.61 L663.56,125.06 L665.48,127.53 L667.37,130.04 L669.21,132.58 L671.02,135.16 L672.78,137.78 L674.50,140.44 L676.17,143.13 L677.80,145.86 L679.38,148.64 L680.90,151.46" fill="none" stroke="#1683ee" stroke-width="1.7"/>
</g>
<path d="M486.0,5.0 H681.0 V151.5" stroke="#a6a6a6" stroke-width="1" fill="none"/>
<path d="M486.0,5.0 V151.5 H681.0" stroke="#7e7e7e" stroke-width="1" fill="none"/>
<path d="M486.00,151.5 v-2.0 M486.0,5.00 h2.0" stroke="#5a5a5a" stroke-width="0.8"/>
<path d="M486.00,5.0 v2.0 M681.0,5.00 h-2.0" stroke="#5a5a5a" stroke-width="0.8"/>
<path d="M525.00,151.5 v-2.0 M486.0,34.30 h2.0" stroke="#5a5a5a" stroke-width="0.8"/>
<path d="M525.00,5.0 v2.0 M681.0,34.30 h-2.0" stroke="#5a5a5a" stroke-width="0.8"/>
<path d="M564.00,151.5 v-2.0 M486.0,63.60 h2.0" stroke="#5a5a5a" stroke-width="0.8"/>
<path d="M564.00,5.0 v2.0 M681.0,63.60 h-2.0" stroke="#5a5a5a" stroke-width="0.8"/>
<path d="M603.00,151.5 v-2.0 M486.0,92.90 h2.0" stroke="#5a5a5a" stroke-width="0.8"/>
<path d="M603.00,5.0 v2.0 M681.0,92.90 h-2.0" stroke="#5a5a5a" stroke-width="0.8"/>
<path d="M642.00,151.5 v-2.0 M486.0,122.20 h2.0" stroke="#5a5a5a" stroke-width="0.8"/>
<path d="M642.00,5.0 v2.0 M681.0,122.20 h-2.0" stroke="#5a5a5a" stroke-width="0.8"/>
<path d="M681.00,151.5 v-2.0 M486.0,151.50 h2.0" stroke="#5a5a5a" stroke-width="0.8"/>
<path d="M681.00,5.0 v2.0 M681.0,151.50 h-2.0" stroke="#5a5a5a" stroke-width="0.8"/>
<text transform="translate(486.00,165.30) scale(0.845,1)" text-anchor="middle" class="t">0</text>
<text transform="translate(482.40,155.70) scale(0.845,1)" text-anchor="end" class="t">0</text>
<text transform="translate(525.00,165.30) scale(0.845,1)" text-anchor="middle" class="t">0.2</text>
<text transform="translate(482.40,126.40) scale(0.845,1)" text-anchor="end" class="t">0.2</text>
<text transform="translate(564.00,165.30) scale(0.845,1)" text-anchor="middle" class="t">0.4</text>
<text transform="translate(482.40,97.10) scale(0.845,1)" text-anchor="end" class="t">0.4</text>
<text transform="translate(603.00,165.30) scale(0.845,1)" text-anchor="middle" class="t">0.6</text>
<text transform="translate(482.40,67.80) scale(0.845,1)" text-anchor="end" class="t">0.6</text>
<text transform="translate(642.00,165.30) scale(0.845,1)" text-anchor="middle" class="t">0.8</text>
<text transform="translate(482.40,38.50) scale(0.845,1)" text-anchor="end" class="t">0.8</text>
<text transform="translate(681.00,165.30) scale(0.845,1)" text-anchor="middle" class="t">1</text>
<text transform="translate(482.40,9.20) scale(0.845,1)" text-anchor="end" class="t">1</text>
<text x="559.80" y="183.40" class="ti" textLength="11.3" lengthAdjust="spacingAndGlyphs">N</text><text x="576.20" y="183.40" class="tt" textLength="11.6" lengthAdjust="spacingAndGlyphs">=</text><text x="591.80" y="183.40" class="tt" textLength="17.3" lengthAdjust="spacingAndGlyphs">0.3</text>
<rect x="18.5" y="209.5" width="195.0" height="147.0" fill="#fff"/>
<path d="M57.50,209.5 V356.5" stroke="#e9e9e9" stroke-width="0.7"/>
<path d="M18.5,238.90 H213.5" stroke="#e9e9e9" stroke-width="0.7"/>
<path d="M96.50,209.5 V356.5" stroke="#e9e9e9" stroke-width="0.7"/>
<path d="M18.5,268.30 H213.5" stroke="#e9e9e9" stroke-width="0.7"/>
<path d="M135.50,209.5 V356.5" stroke="#e9e9e9" stroke-width="0.7"/>
<path d="M18.5,297.70 H213.5" stroke="#e9e9e9" stroke-width="0.7"/>
<path d="M174.50,209.5 V356.5" stroke="#e9e9e9" stroke-width="0.7"/>
<path d="M18.5,327.10 H213.5" stroke="#e9e9e9" stroke-width="0.7"/>
<clipPath id="c3"><rect x="18.5" y="209.5" width="195.0" height="147.6"/></clipPath>
<g clip-path="url(#c3)">
<path d="M92.50,204.49 L93.82,206.57 L95.14,208.65 L96.48,210.72 L97.82,212.78 L99.18,214.84 L100.54,216.89 L101.91,218.93 L103.30,220.97 L104.68,223.00 L106.08,225.02 L107.49,227.04 L108.90,229.05 L110.32,231.06 L111.75,233.06 L113.19,235.05 L114.64,237.04 L116.09,239.02 L117.55,241.00 L119.01,242.97 L120.48,244.94 L121.96,246.91 L123.45,248.86 L124.94,250.82 L126.44,252.77 L127.94,254.71 L129.45,256.65 L130.97,258.59 L132.49,260.52 L134.01,262.45 L135.54,264.37 L137.08,266.29 L138.62,268.21 L140.16,270.12 L141.71,272.03 L143.27,273.94 L144.82,275.84 L146.39,277.74 L147.95,279.64 L149.52,281.54 L151.09,283.43 L152.67,285.32 L154.25,287.20 L155.83,289.09 L157.41,290.97 L159.00,292.85 L160.59,294.73 L162.18,296.61 L163.78,298.48 L165.38,300.36 L166.97,302.23 L168.57,304.10 L170.18,305.97 L171.78,307.83 L173.38,309.70 L174.99,311.57 L176.59,313.43 L178.20,315.30 L179.81,317.16 L181.41,319.03 L183.02,320.89 L184.63,322.75 L186.24,324.62 L187.85,326.48 L189.45,328.34 L191.06,330.21 L192.66,332.07 L194.27,333.93 L195.87,335.80 L197.48,337.67 L199.08,339.53 L200.68,341.40 L202.27,343.27 L203.87,345.14 L205.46,347.01 L207.05,348.88 L208.64,350.76 L210.23,352.63 L211.81,354.51 L213.39,356.39" fill="none" stroke="#585858" stroke-width="0.75" stroke-dasharray="8.9,4.4" stroke-dashoffset="1.6"/>
<path d="M18.51,209.48 L21.69,210.43 L24.87,211.37 L28.05,212.31 L31.23,213.25 L34.41,214.19 L37.60,215.13 L40.78,216.08 L43.96,217.03 L47.15,217.98 L50.33,218.94 L53.51,219.90 L56.68,220.88 L59.86,221.86 L63.03,222.85 L66.20,223.85 L69.36,224.86 L72.52,225.88 L75.68,226.91 L78.83,227.96 L81.98,229.02 L85.12,230.10 L88.25,231.20 L91.37,232.31 L94.49,233.45 L97.59,234.61 L100.68,235.81 L103.76,237.05 L106.81,238.34 L109.84,239.67 L112.85,241.07 L115.83,242.51 L118.80,243.99 L121.76,245.50 L124.70,247.05 L127.63,248.62 L130.55,250.20 L133.48,251.79 L136.39,253.39 L139.31,255.00 L142.23,256.60 L145.13,258.23 L148.02,259.87 L150.90,261.53 L153.76,263.22 L156.59,264.94 L159.39,266.70 L162.17,268.50 L164.91,270.35 L167.61,272.26 L170.27,274.22 L172.88,276.25 L175.44,278.34 L177.95,280.51 L180.41,282.75 L182.80,285.07 L185.13,287.46 L187.39,289.92 L189.58,292.44 L191.70,295.02 L193.74,297.67 L195.71,300.36 L197.59,303.11 L199.39,305.91 L201.10,308.76 L202.71,311.65 L204.22,314.60 L205.61,317.59 L206.89,320.62 L208.06,323.71 L209.09,326.84 L209.99,330.01 L210.76,333.23 L211.38,336.50 L211.89,339.79 L212.30,343.11 L212.62,346.44 L212.88,349.78 L213.10,353.11 L213.29,356.43" fill="none" stroke="#585858" stroke-width="0.75" stroke-dasharray="8.9,4.4" stroke-dashoffset="6.5"/>
<path d="M18.42,210.44 L20.53,211.85 L22.68,213.19 L24.86,214.46 L27.06,215.67 L29.28,216.82 L31.53,217.92 L33.80,218.96 L36.10,219.95 L38.41,220.90 L40.74,221.80 L43.08,222.65 L45.45,223.47 L47.83,224.26 L50.22,225.01 L52.62,225.73 L55.03,226.42 L57.45,227.09 L59.89,227.73 L62.32,228.36 L64.77,228.98 L67.21,229.58 L69.66,230.17 L72.12,230.75 L74.57,231.34 L77.02,231.91 L79.47,232.49 L81.92,233.06 L84.38,233.63 L86.83,234.20 L89.28,234.76 L91.73,235.32 L94.18,235.88 L96.64,236.43 L99.09,236.97 L101.55,237.51 L104.00,238.05 L106.46,238.58 L108.92,239.10 L111.38,239.62 L113.84,240.13 L116.30,240.64 L118.76,241.13 L121.22,241.63 L123.69,242.11 L126.15,242.60 L128.62,243.07 L131.09,243.54 L133.56,244.00 L136.03,244.46 L138.50,244.91 L140.97,245.36 L143.44,245.80 L145.92,246.23 L148.39,246.66 L150.87,247.08 L153.35,247.50 L155.83,247.91 L158.31,248.32 L160.79,248.72 L163.27,249.11 L165.75,249.50 L168.24,249.88 L170.72,250.26 L173.21,250.63 L175.69,250.99 L178.18,251.35 L180.67,251.71 L183.16,252.06 L185.65,252.40 L188.14,252.74 L190.64,253.07 L193.13,253.39 L195.63,253.71 L198.12,254.03 L200.62,254.34 L203.12,254.65 L205.62,254.94 L208.12,255.24 L210.62,255.53" fill="none" stroke="#585858" stroke-width="0.75" stroke-dasharray="8.9,4.4" stroke-dashoffset="1.8"/>
<path d="M143.01,204.51 L143.54,205.85 L144.07,207.20 L144.60,208.55 L145.13,209.89 L145.66,211.24 L146.19,212.59 L146.72,213.94 L147.24,215.29 L147.77,216.65 L148.29,218.00 L148.81,219.35 L149.34,220.71 L149.85,222.06 L150.37,223.42 L150.89,224.77 L151.40,226.13 L151.92,227.49 L152.43,228.85 L152.94,230.21 L153.44,231.57 L153.95,232.93 L154.45,234.30 L154.95,235.66 L155.45,237.02 L155.95,238.39 L156.44,239.76 L156.93,241.12 L157.42,242.49 L157.90,243.86 L158.38,245.23 L158.86,246.60 L159.34,247.98 L159.81,249.35 L160.29,250.72 L160.75,252.10 L161.22,253.48 L161.68,254.85 L162.14,256.23 L162.59,257.61 L163.04,258.99 L163.49,260.37 L163.93,261.76 L164.37,263.14 L164.80,264.53 L165.24,265.91 L165.66,267.30 L166.09,268.69 L166.50,270.08 L166.92,271.47 L167.33,272.86 L167.74,274.25 L168.14,275.65 L168.53,277.04 L168.93,278.44 L169.31,279.84 L169.70,281.24 L170.07,282.64 L170.45,284.04 L170.82,285.45 L171.18,286.85 L171.54,288.26 L171.89,289.66 L172.24,291.07 L172.58,292.48 L172.91,293.89 L173.24,295.31 L173.57,296.72 L173.89,298.14 L174.20,299.55 L174.51,300.97 L174.81,302.39 L175.10,303.81 L175.39,305.23 L175.68,306.66 L175.95,308.08 L176.22,309.51 L176.49,310.94 L176.75,312.37 L177.00,313.80" fill="none" stroke="#585858" stroke-width="0.75" stroke-dasharray="8.9,4.4" stroke-dashoffset="6.4"/>
<circle cx="104.10" cy="222.00" r="3.1" fill="#808080"/>
<polygon points="153.20,225.70 154.32,228.56 157.38,228.74 155.01,230.69 155.79,233.66 153.20,232.00 150.61,233.66 151.39,230.69 149.02,228.74 152.08,228.56" fill="#808080"/>
<rect x="185.70" y="288.50" width="5.4" height="5.4" fill="#808080"/>
<polygon points="203.80,250.60 207.10,254.70 203.80,258.80 200.50,254.70" fill="#808080"/>
<path d="M18.05,209.81 L18.52,210.50 L18.99,211.19 L19.46,211.87 L19.93,212.55 L20.41,213.22 L20.89,213.90 L21.37,214.57 L21.86,215.24 L22.35,215.91 L22.84,216.57 L23.33,217.23 L23.83,217.89 L24.32,218.55 L24.83,219.21 L25.33,219.86 L25.83,220.51 L26.34,221.16 L26.85,221.80 L27.37,222.44 L27.88,223.08 L28.40,223.72 L28.92,224.36 L29.45,224.99 L29.97,225.62 L30.50,226.25 L31.03,226.88 L31.56,227.50 L32.10,228.13 L32.63,228.75 L33.17,229.36 L33.71,229.98 L34.26,230.59 L34.80,231.21 L35.35,231.81 L35.90,232.42 L36.45,233.03 L37.01,233.63 L37.56,234.23 L38.12,234.83 L38.68,235.43 L39.25,236.02 L39.81,236.62 L40.38,237.21 L40.95,237.80 L41.52,238.38 L42.09,238.97 L42.67,239.55 L43.24,240.13 L43.82,240.71 L44.40,241.29 L44.98,241.87 L45.57,242.44 L46.15,243.01 L46.74,243.58 L47.33,244.15 L47.92,244.72 L48.52,245.28 L49.11,245.85 L49.71,246.41 L50.31,246.97 L50.91,247.53 L51.51,248.08 L52.11,248.64 L52.72,249.19 L53.32,249.74 L53.93,250.29 L54.54,250.84 L55.15,251.39 L55.77,251.93 L56.38,252.48 L57.00,253.02 L57.61,253.56 L58.23,254.10 L58.85,254.64 L59.47,255.17 L60.10,255.71 L60.72,256.24 L61.35,256.77 L61.98,257.30 L62.60,257.83 L63.23,258.36 L63.87,258.89 L64.50,259.41 L65.13,259.94 L65.77,260.46 L66.40,260.98 L67.04,261.50 L67.68,262.02 L68.32,262.53 L68.96,263.05 L69.60,263.57 L70.25,264.08 L70.89,264.59 L71.54,265.10 L72.18,265.61 L72.83,266.12 L73.48,266.63 L74.13,267.13 L74.78,267.64 L75.43,268.14 L76.09,268.65 L76.74,269.15 L77.40,269.65 L78.05,270.15 L78.71,270.65 L79.36,271.15 L80.02,271.65 L80.68,272.14 L81.34,272.64 L82.00,273.13 L82.66,273.63 L83.33,274.12 L83.99,274.61 L84.65,275.10 L85.32,275.59 L85.98,276.08 L86.65,276.57 L87.32,277.06 L87.98,277.54 L88.65,278.03 L89.32,278.51 L89.99,279.00 L90.66,279.48 L91.33,279.96 L92.00,280.45 L92.67,280.93 L93.34,281.41 L94.01,281.89 L94.68,282.37 L95.36,282.85 L96.03,283.33 L96.70,283.80 L97.38,284.28 L98.05,284.76 L98.73,285.23 L99.40,285.71 L100.08,286.18 L100.76,286.66 L101.43,287.13 L102.11,287.61 L102.78,288.08 L103.46,288.55 L104.14,289.03 L104.82,289.50 L105.49,289.97 L106.17,290.44 L106.85,290.91 L107.53,291.38 L108.21,291.85 L108.88,292.32 L109.56,292.79 L110.24,293.26 L110.92,293.73 L111.60,294.19 L112.28,294.66 L112.96,295.13 L113.64,295.59 L114.32,296.06 L115.00,296.52 L115.69,296.99 L116.37,297.45 L117.05,297.92 L117.73,298.38 L118.41,298.84 L119.10,299.30 L119.78,299.77 L120.46,300.23 L121.14,300.69 L121.83,301.15 L122.51,301.61 L123.20,302.07 L123.88,302.53 L124.57,302.99 L125.25,303.44 L125.94,303.90 L126.62,304.36 L127.31,304.82 L127.99,305.27 L128.68,305.73 L129.36,306.18 L130.05,306.64 L130.74,307.09 L131.43,307.54 L132.11,308.00 L132.80,308.45 L133.49,308.90 L134.18,309.35 L134.87,309.81 L135.56,310.26 L136.25,310.71 L136.93,311.16 L137.62,311.61 L138.32,312.05 L139.01,312.50 L139.70,312.95 L140.39,313.40 L141.08,313.84 L141.77,314.29 L142.46,314.73 L143.15,315.18 L143.85,315.62 L144.54,316.07 L145.23,316.51 L145.93,316.95 L146.62,317.40 L147.31,317.84 L148.01,318.28 L148.70,318.72 L149.40,319.16 L150.09,319.60 L150.79,320.04 L151.49,320.48 L152.18,320.92 L152.88,321.35 L153.57,321.79 L154.27,322.23 L154.97,322.66 L155.67,323.10 L156.37,323.53 L157.06,323.97 L157.76,324.40 L158.46,324.83 L159.16,325.27 L159.86,325.70 L160.56,326.13 L161.26,326.56 L161.96,326.99 L162.66,327.42 L163.36,327.85 L164.07,328.28 L164.77,328.71 L165.47,329.14 L166.17,329.56 L166.88,329.99 L167.58,330.41 L168.28,330.84 L168.99,331.26 L169.69,331.69 L170.40,332.11 L171.10,332.54 L171.81,332.96 L172.51,333.38 L173.22,333.80 L173.93,334.22 L174.63,334.64 L175.34,335.06 L176.05,335.48 L176.76,335.90 L177.46,336.32 L178.17,336.73 L178.88,337.15 L179.59,337.57 L180.30,337.98 L181.01,338.40 L181.72,338.81 L182.43,339.22" fill="none" stroke="#6c6c6c" stroke-width="1.6" stroke-dasharray="5.6,4.07" stroke-dashoffset="1.8"/>
<path d="M18.43,210.41 L19.41,211.07 L20.40,211.72 L21.40,212.36 L22.40,212.98 L23.41,213.59 L24.42,214.18 L25.44,214.77 L26.46,215.33 L27.49,215.89 L28.52,216.43 L29.56,216.97 L30.60,217.49 L31.65,217.99 L32.71,218.49 L33.77,218.97 L34.83,219.45 L35.90,219.91 L36.97,220.37 L38.04,220.81 L39.12,221.24 L40.21,221.67 L41.30,222.08 L42.39,222.49 L43.48,222.88 L44.58,223.27 L45.69,223.65 L46.79,224.02 L47.90,224.38 L49.01,224.74 L50.13,225.09 L51.24,225.43 L52.36,225.76 L53.49,226.09 L54.61,226.41 L55.74,226.73 L56.87,227.04 L58.00,227.34 L59.14,227.64 L60.27,227.93 L61.41,228.22 L62.55,228.51 L63.69,228.79 L64.83,229.06 L65.98,229.34 L67.12,229.60 L68.27,229.87 L69.42,230.13 L70.56,230.39 L71.71,230.65 L72.86,230.91 L74.01,231.16 L75.16,231.41 L76.31,231.66 L77.46,231.91 L78.61,232.16 L79.76,232.40 L80.92,232.65 L82.07,232.90 L83.22,233.14 L84.37,233.39 L85.51,233.64 L86.66,233.89 L87.81,234.14 L88.95,234.39 L90.10,234.64 L91.24,234.89 L92.39,235.15 L93.53,235.41 L94.67,235.67 L95.80,235.93 L96.94,236.20 L98.07,236.47 L99.21,236.75 L100.34,237.02 L101.46,237.31 L102.59,237.59 L103.71,237.88 L104.83,238.18 L105.95,238.48 L110.00,240.00 L115.00,242.30 L120.80,245.20 L134.70,263.00 L158.80,292.90 L177.00,313.80 L179.20,324.00 L180.70,332.70 L182.40,338.90 L213.40,356.40" fill="none" stroke="#fb651c" stroke-width="1.7" stroke-linejoin="round"/>
<path d="M18.62,209.37 L21.48,210.57 L24.34,211.79 L27.20,213.02 L30.06,214.27 L32.91,215.53 L35.76,216.80 L38.61,218.09 L41.44,219.40 L44.28,220.72 L47.11,222.06 L49.93,223.41 L52.75,224.78 L55.56,226.16 L58.37,227.56 L61.17,228.98 L63.96,230.41 L66.74,231.86 L69.52,233.32 L72.29,234.80 L75.05,236.30 L77.80,237.81 L80.55,239.34 L83.28,240.88 L86.01,242.45 L88.72,244.03 L91.43,245.62 L94.13,247.23 L96.81,248.86 L99.49,250.51 L102.15,252.18 L104.81,253.86 L107.45,255.56 L110.08,257.27 L112.70,259.01 L115.30,260.76 L117.90,262.53 L120.48,264.31 L123.04,266.12 L125.60,267.94 L128.13,269.78 L130.66,271.64 L133.17,273.51 L135.67,275.41 L138.15,277.32 L140.61,279.25 L143.06,281.20 L145.50,283.17 L147.92,285.16 L150.32,287.17 L152.70,289.19 L155.07,291.24 L157.42,293.30 L159.76,295.38 L162.07,297.48 L164.37,299.60 L166.65,301.74 L168.91,303.90 L171.15,306.08 L173.37,308.28 L175.57,310.50 L177.76,312.74 L179.92,314.99 L182.06,317.27 L184.18,319.57 L186.28,321.89 L188.36,324.23 L190.42,326.58 L192.46,328.96 L194.47,331.36 L196.46,333.78 L198.43,336.22 L200.37,338.68 L202.30,341.17 L204.20,343.67 L206.07,346.19 L207.92,348.74 L209.75,351.30 L211.55,353.89 L213.32,356.50" fill="none" stroke="#1683ee" stroke-width="1.7"/>
</g>
<path d="M18.5,209.5 H213.5 V356.5" stroke="#a6a6a6" stroke-width="1" fill="none"/>
<path d="M18.5,209.5 V356.5 H213.5" stroke="#7e7e7e" stroke-width="1" fill="none"/>
<path d="M18.50,356.5 v-2.0 M18.5,209.50 h2.0" stroke="#5a5a5a" stroke-width="0.8"/>
<path d="M18.50,209.5 v2.0 M213.5,209.50 h-2.0" stroke="#5a5a5a" stroke-width="0.8"/>
<path d="M57.50,356.5 v-2.0 M18.5,238.90 h2.0" stroke="#5a5a5a" stroke-width="0.8"/>
<path d="M57.50,209.5 v2.0 M213.5,238.90 h-2.0" stroke="#5a5a5a" stroke-width="0.8"/>
<path d="M96.50,356.5 v-2.0 M18.5,268.30 h2.0" stroke="#5a5a5a" stroke-width="0.8"/>
<path d="M96.50,209.5 v2.0 M213.5,268.30 h-2.0" stroke="#5a5a5a" stroke-width="0.8"/>
<path d="M135.50,356.5 v-2.0 M18.5,297.70 h2.0" stroke="#5a5a5a" stroke-width="0.8"/>
<path d="M135.50,209.5 v2.0 M213.5,297.70 h-2.0" stroke="#5a5a5a" stroke-width="0.8"/>
<path d="M174.50,356.5 v-2.0 M18.5,327.10 h2.0" stroke="#5a5a5a" stroke-width="0.8"/>
<path d="M174.50,209.5 v2.0 M213.5,327.10 h-2.0" stroke="#5a5a5a" stroke-width="0.8"/>
<path d="M213.50,356.5 v-2.0 M18.5,356.50 h2.0" stroke="#5a5a5a" stroke-width="0.8"/>
<path d="M213.50,209.5 v2.0 M213.5,356.50 h-2.0" stroke="#5a5a5a" stroke-width="0.8"/>
<text transform="translate(18.50,370.30) scale(0.845,1)" text-anchor="middle" class="t">0</text>
<text transform="translate(14.90,360.70) scale(0.845,1)" text-anchor="end" class="t">0</text>
<text transform="translate(57.50,370.30) scale(0.845,1)" text-anchor="middle" class="t">0.2</text>
<text transform="translate(14.90,331.30) scale(0.845,1)" text-anchor="end" class="t">0.2</text>
<text transform="translate(96.50,370.30) scale(0.845,1)" text-anchor="middle" class="t">0.4</text>
<text transform="translate(14.90,301.90) scale(0.845,1)" text-anchor="end" class="t">0.4</text>
<text transform="translate(135.50,370.30) scale(0.845,1)" text-anchor="middle" class="t">0.6</text>
<text transform="translate(14.90,272.50) scale(0.845,1)" text-anchor="end" class="t">0.6</text>
<text transform="translate(174.50,370.30) scale(0.845,1)" text-anchor="middle" class="t">0.8</text>
<text transform="translate(14.90,243.10) scale(0.845,1)" text-anchor="end" class="t">0.8</text>
<text transform="translate(213.50,370.30) scale(0.845,1)" text-anchor="middle" class="t">1</text>
<text transform="translate(14.90,213.70) scale(0.845,1)" text-anchor="end" class="t">1</text>
<text x="92.30" y="387.80" class="ti" textLength="11.3" lengthAdjust="spacingAndGlyphs">N</text><text x="108.70" y="387.80" class="tt" textLength="11.6" lengthAdjust="spacingAndGlyphs">=</text><text x="124.30" y="387.80" class="tt" textLength="17.3" lengthAdjust="spacingAndGlyphs">0.4</text>
<rect x="252.5" y="209.5" width="195.0" height="147.0" fill="#fff"/>
<path d="M291.50,209.5 V356.5" stroke="#e9e9e9" stroke-width="0.7"/>
<path d="M252.5,238.90 H447.5" stroke="#e9e9e9" stroke-width="0.7"/>
<path d="M330.50,209.5 V356.5" stroke="#e9e9e9" stroke-width="0.7"/>
<path d="M252.5,268.30 H447.5" stroke="#e9e9e9" stroke-width="0.7"/>
<path d="M369.50,209.5 V356.5" stroke="#e9e9e9" stroke-width="0.7"/>
<path d="M252.5,297.70 H447.5" stroke="#e9e9e9" stroke-width="0.7"/>
<path d="M408.50,209.5 V356.5" stroke="#e9e9e9" stroke-width="0.7"/>
<path d="M252.5,327.10 H447.5" stroke="#e9e9e9" stroke-width="0.7"/>
<clipPath id="c4"><rect x="252.5" y="209.5" width="195.0" height="147.6"/></clipPath>
<g clip-path="url(#c4)">
<path d="M326.03,204.48 L327.34,206.57 L328.66,208.65 L330.00,210.73 L331.34,212.80 L332.69,214.86 L334.05,216.91 L335.42,218.96 L336.80,221.01 L338.18,223.04 L339.58,225.07 L340.98,227.10 L342.39,229.12 L343.81,231.13 L345.24,233.14 L346.67,235.14 L348.12,237.14 L349.57,239.13 L351.02,241.12 L352.48,243.10 L353.95,245.08 L355.43,247.05 L356.91,249.02 L358.39,250.99 L359.89,252.94 L361.38,254.90 L362.89,256.85 L364.40,258.80 L365.91,260.74 L367.43,262.68 L368.95,264.62 L370.48,266.55 L372.01,268.48 L373.54,270.41 L375.08,272.34 L376.62,274.26 L378.17,276.17 L379.72,278.09 L381.28,280.00 L382.84,281.91 L384.40,283.81 L385.97,285.71 L387.54,287.61 L389.11,289.51 L390.69,291.40 L392.27,293.29 L393.85,295.18 L395.44,297.07 L397.03,298.95 L398.62,300.83 L400.22,302.71 L401.82,304.58 L403.42,306.46 L405.02,308.33 L406.63,310.20 L408.24,312.07 L409.85,313.93 L411.46,315.79 L413.08,317.65 L414.70,319.51 L416.32,321.37 L417.94,323.23 L419.57,325.08 L421.20,326.93 L422.83,328.78 L424.46,330.63 L426.09,332.48 L427.72,334.32 L429.36,336.16 L431.00,338.01 L432.64,339.85 L434.28,341.69 L435.92,343.53 L437.56,345.36 L439.20,347.20 L440.85,349.03 L442.49,350.87 L444.14,352.70 L445.79,354.53 L447.44,356.37" fill="none" stroke="#585858" stroke-width="0.75" stroke-dasharray="8.9,4.4" stroke-dashoffset="4.0"/>
<path d="M252.53,209.42 L255.72,210.33 L258.90,211.25 L262.09,212.17 L265.27,213.10 L268.45,214.04 L271.63,214.98 L274.81,215.93 L277.99,216.89 L281.17,217.86 L284.34,218.84 L287.51,219.83 L290.68,220.83 L293.84,221.84 L297.00,222.87 L300.16,223.91 L303.31,224.96 L306.45,226.03 L309.59,227.12 L312.72,228.22 L315.85,229.33 L318.97,230.47 L322.08,231.62 L325.19,232.80 L328.28,233.99 L331.37,235.20 L334.45,236.43 L337.52,237.69 L340.59,238.96 L343.64,240.26 L346.68,241.58 L349.71,242.93 L352.73,244.30 L355.74,245.70 L358.73,247.12 L361.72,248.57 L364.69,250.05 L367.65,251.56 L370.60,253.09 L373.53,254.65 L376.45,256.24 L379.36,257.85 L382.26,259.49 L385.14,261.14 L388.02,262.80 L390.88,264.49 L393.72,266.21 L396.50,268.00 L399.22,269.87 L401.87,271.84 L404.44,273.91 L406.95,276.06 L409.40,278.28 L411.80,280.57 L414.16,282.91 L416.46,285.30 L418.72,287.75 L420.94,290.24 L423.10,292.77 L425.22,295.35 L427.28,297.97 L429.30,300.62 L431.26,303.31 L433.17,306.03 L435.00,308.79 L436.73,311.61 L438.33,314.48 L439.78,317.43 L441.06,320.47 L442.15,323.58 L443.08,326.76 L443.86,330.00 L444.52,333.28 L445.05,336.58 L445.50,339.90 L445.89,343.23 L446.25,346.55 L446.60,349.86 L446.97,353.14 L447.40,356.38" fill="none" stroke="#585858" stroke-width="0.75" stroke-dasharray="8.9,4.4" stroke-dashoffset="7.9"/>
<path d="M252.38,210.08 L253.97,212.33 L255.67,214.47 L257.46,216.50 L259.33,218.43 L261.29,220.27 L263.32,222.03 L265.41,223.70 L267.58,225.30 L269.80,226.83 L272.07,228.30 L274.38,229.71 L276.74,231.07 L279.12,232.39 L281.54,233.67 L283.97,234.91 L286.42,236.14 L288.88,237.34 L291.34,238.53 L293.80,239.71 L296.26,240.88 L298.71,242.05 L301.16,243.21 L303.62,244.37 L306.07,245.52 L308.52,246.66 L310.97,247.79 L313.43,248.92 L315.89,250.04 L318.35,251.15 L320.82,252.26 L323.29,253.36 L325.77,254.45 L328.25,255.54 L330.74,256.62 L333.22,257.70 L335.72,258.77 L338.21,259.84 L340.71,260.91 L343.20,261.98 L345.70,263.05 L348.20,264.11 L350.69,265.18 L353.19,266.24 L355.68,267.30 L358.18,268.36 L360.68,269.41 L363.18,270.46 L365.69,271.49 L368.20,272.51 L370.71,273.52 L373.23,274.52 L375.76,275.49 L378.29,276.45 L380.84,277.38 L383.39,278.30 L385.94,279.20 L388.51,280.08 L391.07,280.96 L393.64,281.82 L396.22,282.68 L398.79,283.54 L401.37,284.39 L403.94,285.25 L406.51,286.11 L409.08,286.98 L411.65,287.86 L414.22,288.73 L416.79,289.61 L419.36,290.48 L421.93,291.34 L424.51,292.19 L427.09,293.02 L429.67,293.83 L432.27,294.61 L434.87,295.37 L437.49,296.09 L440.11,296.77 L442.75,297.42 L445.40,298.02" fill="none" stroke="#585858" stroke-width="0.75" stroke-dasharray="8.9,4.4" stroke-dashoffset="1.8"/>
<path d="M376.80,204.51 L377.31,205.87 L377.82,207.23 L378.33,208.59 L378.84,209.96 L379.34,211.32 L379.85,212.69 L380.36,214.05 L380.86,215.42 L381.36,216.79 L381.86,218.15 L382.37,219.52 L382.87,220.89 L383.36,222.26 L383.86,223.63 L384.36,225.00 L384.85,226.37 L385.34,227.74 L385.83,229.12 L386.32,230.49 L386.81,231.86 L387.30,233.24 L387.78,234.61 L388.26,235.99 L388.74,237.37 L389.22,238.74 L389.70,240.12 L390.17,241.50 L390.64,242.88 L391.11,244.26 L391.58,245.64 L392.04,247.03 L392.50,248.41 L392.96,249.79 L393.42,251.18 L393.87,252.56 L394.33,253.95 L394.77,255.34 L395.22,256.73 L395.66,258.11 L396.10,259.50 L396.54,260.89 L396.98,262.29 L397.41,263.68 L397.83,265.07 L398.26,266.47 L398.68,267.86 L399.10,269.26 L399.51,270.65 L399.92,272.05 L400.33,273.45 L400.74,274.85 L401.14,276.25 L401.53,277.66 L401.92,279.06 L402.31,280.46 L402.70,281.87 L403.08,283.27 L403.46,284.68 L403.83,286.09 L404.20,287.50 L404.56,288.91 L404.92,290.32 L405.28,291.73 L405.63,293.15 L405.98,294.56 L406.32,295.98 L406.66,297.39 L406.99,298.81 L407.32,300.23 L407.64,301.65 L407.96,303.07 L408.27,304.50 L408.58,305.92 L408.89,307.35 L409.19,308.77 L409.48,310.20 L409.77,311.63 L410.05,313.06 L410.33,314.49" fill="none" stroke="#585858" stroke-width="0.75" stroke-dasharray="8.9,4.4" stroke-dashoffset="5.9"/>
<circle cx="337.80" cy="222.50" r="3.1" fill="#808080"/>
<polygon points="387.00,227.40 388.12,230.26 391.18,230.44 388.81,232.39 389.59,235.36 387.00,233.70 384.41,235.36 385.19,232.39 382.82,230.44 385.88,230.26" fill="#808080"/>
<rect x="325.60" y="231.50" width="5.4" height="5.4" fill="#808080"/>
<polygon points="437.60,292.00 440.90,296.10 437.60,300.20 434.30,296.10" fill="#808080"/>
<path d="M252.05,209.78 L252.50,210.48 L252.96,211.17 L253.43,211.86 L253.89,212.54 L254.36,213.23 L254.83,213.91 L255.31,214.59 L255.79,215.26 L256.27,215.93 L256.75,216.60 L257.24,217.27 L257.73,217.93 L258.22,218.60 L258.72,219.25 L259.22,219.91 L259.72,220.56 L260.22,221.22 L260.73,221.86 L261.24,222.51 L261.75,223.15 L262.26,223.79 L262.78,224.43 L263.30,225.07 L263.82,225.70 L264.35,226.33 L264.87,226.96 L265.40,227.59 L265.94,228.21 L266.47,228.84 L267.01,229.45 L267.55,230.07 L268.09,230.69 L268.63,231.30 L269.18,231.91 L269.73,232.52 L270.28,233.12 L270.84,233.73 L271.39,234.33 L271.95,234.93 L272.51,235.52 L273.08,236.12 L273.64,236.71 L274.21,237.30 L274.78,237.89 L275.35,238.48 L275.92,239.06 L276.50,239.65 L277.08,240.23 L277.66,240.81 L278.24,241.38 L278.82,241.96 L279.41,242.53 L280.00,243.10 L280.59,243.67 L281.18,244.24 L281.77,244.80 L282.37,245.37 L282.96,245.93 L283.56,246.49 L284.16,247.04 L284.77,247.60 L285.37,248.16 L285.98,248.71 L286.59,249.26 L287.20,249.81 L287.81,250.36 L288.42,250.90 L289.04,251.45 L289.65,251.99 L290.27,252.53 L290.89,253.07 L291.51,253.61 L292.13,254.15 L292.76,254.68 L293.38,255.22 L294.01,255.75 L294.64,256.28 L295.27,256.81 L295.90,257.34 L296.53,257.86 L297.17,258.39 L297.80,258.91 L298.44,259.43 L299.08,259.95 L299.72,260.47 L300.36,260.99 L301.00,261.51 L301.64,262.03 L302.29,262.54 L302.93,263.05 L303.58,263.57 L304.22,264.08 L304.87,264.59 L305.52,265.09 L306.17,265.60 L306.83,266.11 L307.48,266.61 L308.13,267.12 L308.79,267.62 L309.44,268.12 L310.10,268.63 L310.76,269.13 L311.42,269.62 L312.07,270.12 L312.74,270.62 L313.40,271.12 L314.06,271.61 L314.72,272.11 L315.38,272.60 L316.05,273.09 L316.71,273.59 L317.38,274.08 L318.04,274.57 L318.71,275.06 L319.38,275.55 L320.05,276.03 L320.71,276.52 L321.38,277.01 L322.05,277.49 L322.72,277.98 L323.39,278.46 L324.06,278.95 L324.74,279.43 L325.41,279.91 L326.08,280.40 L326.75,280.88 L327.43,281.36 L328.10,281.84 L328.77,282.32 L329.45,282.80 L330.12,283.28 L330.80,283.76 L331.47,284.24 L332.15,284.72 L332.82,285.19 L333.50,285.67 L334.17,286.15 L334.85,286.62 L335.52,287.10 L336.20,287.58 L336.87,288.05 L337.55,288.53 L338.23,289.00 L338.90,289.48 L339.58,289.95 L340.25,290.43 L340.93,290.90 L341.61,291.37 L342.28,291.85 L342.96,292.32 L343.64,292.79 L344.31,293.27 L344.99,293.74 L345.66,294.21 L346.34,294.68 L347.02,295.15 L347.70,295.62 L348.37,296.10 L349.05,296.57 L349.73,297.04 L350.41,297.50 L351.08,297.97 L351.76,298.44 L352.44,298.91 L353.12,299.38 L353.79,299.85 L354.47,300.31 L355.15,300.78 L355.83,301.25 L356.51,301.71 L357.19,302.18 L357.87,302.64 L358.55,303.11 L359.23,303.57 L359.91,304.04 L360.59,304.50 L361.27,304.96 L361.95,305.43 L362.63,305.89 L363.31,306.35 L363.99,306.81 L364.67,307.27 L365.35,307.73 L366.04,308.19 L366.72,308.65 L367.40,309.11 L368.08,309.57 L368.77,310.02 L369.45,310.48 L370.13,310.94 L370.82,311.39 L371.50,311.85 L372.19,312.30 L372.87,312.76 L373.56,313.21 L374.24,313.67 L374.93,314.12 L375.61,314.57 L376.30,315.02 L376.99,315.47 L377.67,315.92 L378.36,316.37 L379.05,316.82 L379.74,317.27 L380.43,317.72 L381.11,318.17 L381.80,318.61 L382.49,319.06 L383.18,319.51 L383.87,319.95 L384.56,320.39 L385.26,320.84 L385.95,321.28 L386.64,321.72 L387.33,322.17 L388.02,322.61 L388.72,323.05 L389.41,323.49 L390.10,323.93 L390.80,324.36 L391.49,324.80 L392.19,325.24 L392.88,325.67 L393.58,326.11 L394.28,326.54 L394.97,326.98 L395.67,327.41 L396.37,327.84 L397.07,328.28 L397.77,328.71 L398.47,329.14 L399.17,329.57 L399.87,330.00 L400.57,330.42 L401.27,330.85 L401.97,331.28 L402.67,331.70 L403.38,332.13 L404.08,332.55 L404.79,332.98 L405.49,333.40 L406.20,333.82 L406.90,334.24 L407.61,334.66 L408.31,335.08 L409.02,335.50 L409.73,335.92 L410.44,336.33 L411.15,336.75 L411.86,337.17 L412.57,337.58 L413.28,337.99 L413.99,338.41" fill="none" stroke="#6c6c6c" stroke-width="1.6" stroke-dasharray="5.6,4.07" stroke-dashoffset="1.8"/>
<path d="M252.33,210.13 L253.41,211.64 L254.53,213.11 L255.70,214.52 L256.92,215.88 L258.17,217.21 L259.46,218.48 L260.78,219.72 L262.14,220.92 L263.53,222.08 L264.95,223.21 L266.40,224.30 L267.87,225.36 L269.36,226.40 L270.88,227.40 L272.41,228.39 L273.96,229.35 L275.53,230.29 L277.11,231.21 L278.70,232.12 L280.30,233.01 L281.91,233.88 L283.52,234.74 L285.15,235.59 L286.78,236.43 L288.42,237.26 L290.06,238.08 L291.71,238.88 L293.36,239.68 L295.02,240.47 L296.68,241.26 L298.35,242.03 L300.02,242.80 L301.69,243.57 L303.36,244.33 L305.03,245.09 L306.70,245.85 L308.38,246.60 L310.05,247.35 L311.72,248.10 L313.39,248.85 L315.06,249.60 L316.73,250.35 L318.40,251.09 L320.07,251.83 L321.74,252.58 L323.41,253.32 L325.08,254.06 L326.75,254.79 L328.42,255.53 L330.10,256.26 L331.77,257.00 L333.44,257.73 L335.11,258.46 L336.78,259.19 L338.45,259.91 L340.13,260.64 L341.80,261.36 L343.48,262.09 L345.15,262.81 L346.83,263.53 L348.50,264.25 L350.18,264.97 L351.86,265.68 L353.54,266.40 L355.22,267.11 L356.90,267.82 L358.58,268.54 L360.27,269.25 L361.95,269.95 L363.64,270.66 L365.33,271.37 L367.02,272.07 L368.71,272.77 L370.40,273.48 L372.09,274.18 L373.79,274.88 L375.49,275.58 L377.19,276.27 L378.89,276.97 L392.80,294.40 L410.30,314.50 L412.10,325.40 L414.00,337.80 L447.40,356.40" fill="none" stroke="#fb651c" stroke-width="1.7" stroke-linejoin="round"/>
<path d="M252.38,209.54 L255.37,210.58 L258.34,211.65 L261.30,212.75 L264.24,213.87 L267.17,215.02 L270.09,216.20 L272.99,217.40 L275.87,218.64 L278.75,219.90 L281.61,221.18 L284.45,222.49 L287.28,223.83 L290.10,225.19 L292.90,226.58 L295.69,227.99 L298.47,229.43 L301.23,230.89 L303.98,232.37 L306.71,233.88 L309.43,235.41 L312.14,236.96 L314.83,238.54 L317.52,240.14 L320.18,241.76 L322.84,243.40 L325.48,245.06 L328.10,246.75 L330.72,248.46 L333.32,250.18 L335.91,251.93 L338.48,253.70 L341.04,255.48 L343.59,257.29 L346.13,259.11 L348.65,260.96 L351.16,262.82 L353.66,264.70 L356.14,266.60 L358.61,268.52 L361.07,270.45 L363.52,272.40 L365.95,274.37 L368.37,276.35 L370.78,278.35 L373.17,280.37 L375.56,282.40 L377.93,284.45 L380.28,286.51 L382.63,288.59 L384.96,290.68 L387.28,292.78 L389.59,294.90 L391.89,297.04 L394.17,299.18 L396.45,301.34 L398.71,303.51 L400.95,305.70 L403.19,307.89 L405.41,310.10 L407.63,312.32 L409.83,314.55 L412.02,316.79 L414.19,319.04 L416.36,321.30 L418.51,323.58 L420.65,325.86 L422.78,328.15 L424.90,330.45 L427.01,332.76 L429.10,335.08 L431.19,337.40 L433.26,339.73 L435.32,342.08 L437.37,344.42 L439.41,346.78 L441.44,349.14 L443.45,351.51 L445.46,353.89 L447.45,356.27" fill="none" stroke="#1683ee" stroke-width="1.7"/>
</g>
<path d="M252.5,209.5 H447.5 V356.5" stroke="#a6a6a6" stroke-width="1" fill="none"/>
<path d="M252.5,209.5 V356.5 H447.5" stroke="#7e7e7e" stroke-width="1" fill="none"/>
<path d="M252.50,356.5 v-2.0 M252.5,209.50 h2.0" stroke="#5a5a5a" stroke-width="0.8"/>
<path d="M252.50,209.5 v2.0 M447.5,209.50 h-2.0" stroke="#5a5a5a" stroke-width="0.8"/>
<path d="M291.50,356.5 v-2.0 M252.5,238.90 h2.0" stroke="#5a5a5a" stroke-width="0.8"/>
<path d="M291.50,209.5 v2.0 M447.5,238.90 h-2.0" stroke="#5a5a5a" stroke-width="0.8"/>
<path d="M330.50,356.5 v-2.0 M252.5,268.30 h2.0" stroke="#5a5a5a" stroke-width="0.8"/>
<path d="M330.50,209.5 v2.0 M447.5,268.30 h-2.0" stroke="#5a5a5a" stroke-width="0.8"/>
<path d="M369.50,356.5 v-2.0 M252.5,297.70 h2.0" stroke="#5a5a5a" stroke-width="0.8"/>
<path d="M369.50,209.5 v2.0 M447.5,297.70 h-2.0" stroke="#5a5a5a" stroke-width="0.8"/>
<path d="M408.50,356.5 v-2.0 M252.5,327.10 h2.0" stroke="#5a5a5a" stroke-width="0.8"/>
<path d="M408.50,209.5 v2.0 M447.5,327.10 h-2.0" stroke="#5a5a5a" stroke-width="0.8"/>
<path d="M447.50,356.5 v-2.0 M252.5,356.50 h2.0" stroke="#5a5a5a" stroke-width="0.8"/>
<path d="M447.50,209.5 v2.0 M447.5,356.50 h-2.0" stroke="#5a5a5a" stroke-width="0.8"/>
<text transform="translate(252.50,370.30) scale(0.845,1)" text-anchor="middle" class="t">0</text>
<text transform="translate(248.90,360.70) scale(0.845,1)" text-anchor="end" class="t">0</text>
<text transform="translate(291.50,370.30) scale(0.845,1)" text-anchor="middle" class="t">0.2</text>
<text transform="translate(248.90,331.30) scale(0.845,1)" text-anchor="end" class="t">0.2</text>
<text transform="translate(330.50,370.30) scale(0.845,1)" text-anchor="middle" class="t">0.4</text>
<text transform="translate(248.90,301.90) scale(0.845,1)" text-anchor="end" class="t">0.4</text>
<text transform="translate(369.50,370.30) scale(0.845,1)" text-anchor="middle" class="t">0.6</text>
<text transform="translate(248.90,272.50) scale(0.845,1)" text-anchor="end" class="t">0.6</text>
<text transform="translate(408.50,370.30) scale(0.845,1)" text-anchor="middle" class="t">0.8</text>
<text transform="translate(248.90,243.10) scale(0.845,1)" text-anchor="end" class="t">0.8</text>
<text transform="translate(447.50,370.30) scale(0.845,1)" text-anchor="middle" class="t">1</text>
<text transform="translate(248.90,213.70) scale(0.845,1)" text-anchor="end" class="t">1</text>
<text x="322.75" y="387.80" class="ti" textLength="11.3" lengthAdjust="spacingAndGlyphs">N</text><text x="339.15" y="387.80" class="tt" textLength="11.6" lengthAdjust="spacingAndGlyphs">=</text><text x="354.75" y="387.80" class="tt" textLength="24.4" lengthAdjust="spacingAndGlyphs">0.45</text>
<rect x="533.4" y="212.2" width="101.1" height="142.8" fill="#fff" stroke="#a6a6a6" stroke-width="0.9"/>
<path d="M542.9,223.3 H548.8 M552.7,223.3 H561.5 M571.8,223.3 H577.7 M581,223.3 H584.9" stroke="#a9a9a9" stroke-width="0.8"/>
<path d="M542.9,243.1 H548.8 M552.7,243.1 H561.5 M571.8,243.1 H577.7 M581,243.1 H584.9" stroke="#a9a9a9" stroke-width="0.8"/>
<path d="M542.9,262.9 H548.8 M552.7,262.9 H561.5 M571.8,262.9 H577.7 M581,262.9 H584.9" stroke="#a9a9a9" stroke-width="0.8"/>
<path d="M542.9,282.7 H548.8 M552.7,282.7 H561.5 M571.8,282.7 H577.7 M581,282.7 H584.9" stroke="#a9a9a9" stroke-width="0.8"/>
<rect x="561.00" y="220.30" width="6.0" height="6.0" fill="#808080"/>
<polygon points="564.00,238.90 567.40,243.10 564.00,247.30 560.60,243.10" fill="#808080"/>
<polygon points="564.00,258.90 565.12,261.66 568.09,261.87 565.81,263.79 566.53,266.68 564.00,265.10 561.47,266.68 562.19,263.79 559.91,261.87 562.88,261.66" fill="#808080"/>
<circle cx="564.00" cy="282.70" r="3.0" fill="#808080"/>
<path d="M542.9,302.7 H585.0" stroke="#fb651c" stroke-width="1.7"/>
<path d="M542.9,323.6 H585.0" stroke="#1683ee" stroke-width="1.7"/>
<path d="M542.9,344.7 H585.0" stroke="#6c6c6c" stroke-width="1.6" stroke-dasharray="5.4,4.27"/>
<text x="591.3" y="227.4" class="ti">C</text>
<text x="600.9" y="228.6" class="ls"><tspan font-style="italic">β</tspan></text>
<text x="591.3" y="247.2" class="ti">C</text>
<text x="600.9" y="248.4" class="ls">cov</text>
<text x="591.3" y="267.0" class="ti">C</text>
<text x="600.9" y="268.2" class="ls">EB</text>
<text x="591.3" y="286.8" class="ti">C</text>
<text x="600.9" y="288.0" class="ls">E</text>
<text x="591.3" y="306.8" class="ti">C</text>
<text x="600.9" y="308.0" class="ls">best</text>
<text x="591.9" y="328.2" class="tt">ϒ</text>
<path d="M591.5,317.6 q4.4,-5.6 8.8,0" stroke="#1c1c1c" stroke-width="0.9" fill="none"/>
<text x="601.5999999999999" y="329.7" class="ls"><tspan font-style="italic">α</tspan>(10)</text>
<text x="592.5" y="347.7" class="ti">χ</text>
</svg></body></html>
